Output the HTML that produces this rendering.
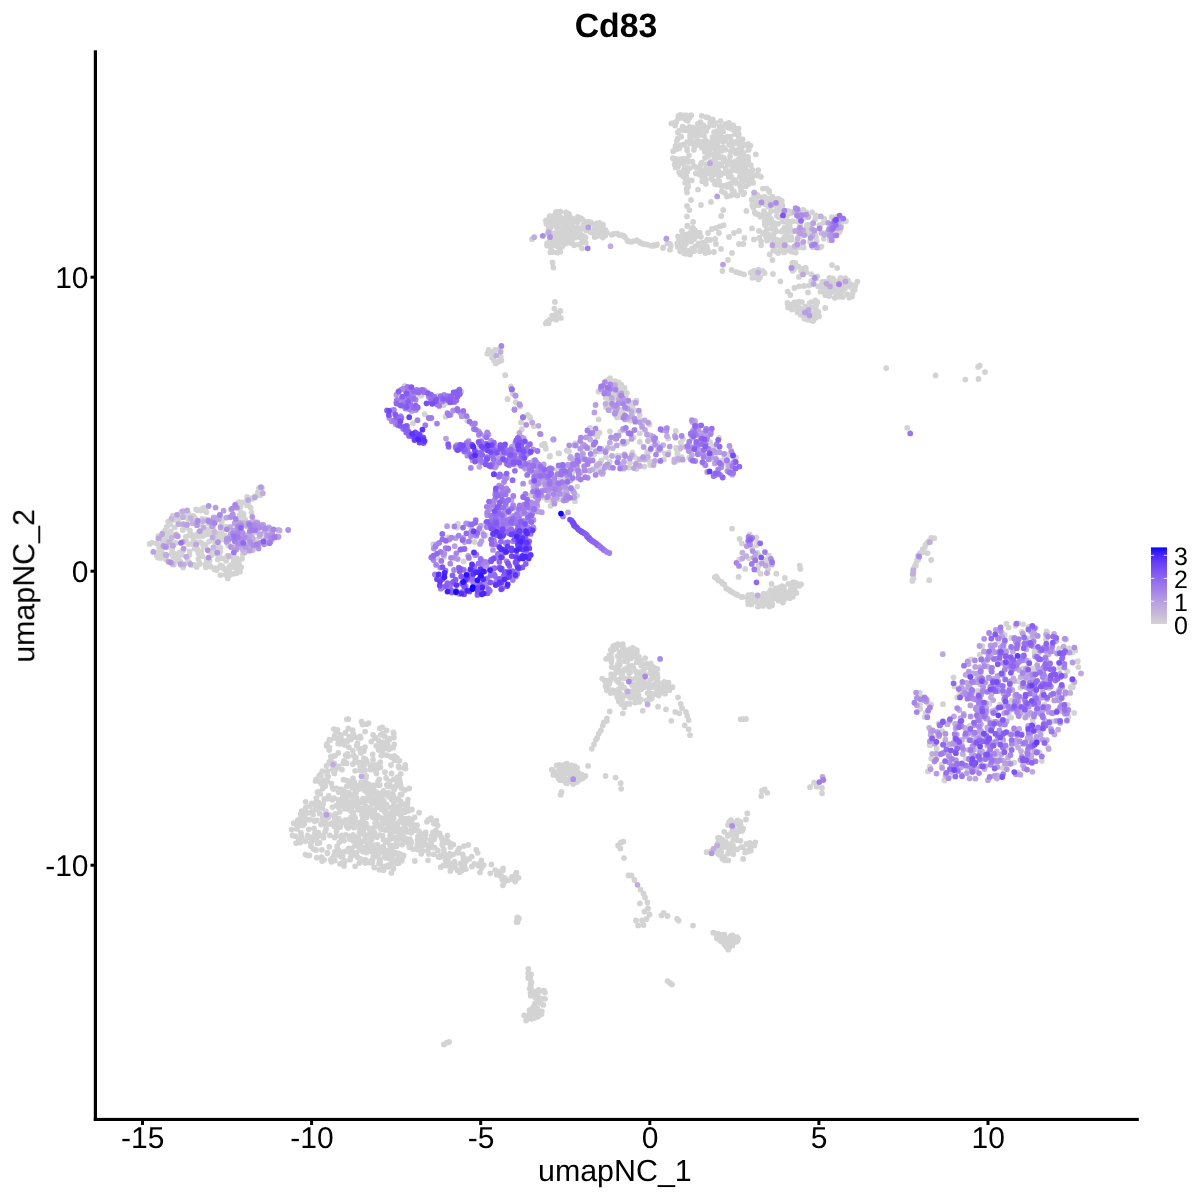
<!DOCTYPE html>
<html><head><meta charset="utf-8"><title>Cd83</title>
<style>
html,body{margin:0;padding:0;background:#fff;}
svg{display:block;font-family:"Liberation Sans",sans-serif;}
text{text-rendering:geometricPrecision;}
.t{opacity:0.999;}
</style></head><body>
<svg width="1200" height="1200" viewBox="0 0 1200 1200">
<defs><linearGradient id="lg" x1="0" y1="0" x2="0" y2="1"><stop offset="0.00" stop-color="#0000ff"/><stop offset="0.05" stop-color="#3318fd"/><stop offset="0.10" stop-color="#4926fb"/><stop offset="0.15" stop-color="#5932fa"/><stop offset="0.20" stop-color="#673df8"/><stop offset="0.25" stop-color="#7248f6"/><stop offset="0.30" stop-color="#7c51f4"/><stop offset="0.35" stop-color="#855bf2"/><stop offset="0.40" stop-color="#8e65f0"/><stop offset="0.45" stop-color="#966eee"/><stop offset="0.50" stop-color="#9d77ec"/><stop offset="0.55" stop-color="#a480ea"/><stop offset="0.60" stop-color="#aa89e7"/><stop offset="0.65" stop-color="#b093e5"/><stop offset="0.70" stop-color="#b69ce3"/><stop offset="0.75" stop-color="#bba5e0"/><stop offset="0.80" stop-color="#c1aede"/><stop offset="0.85" stop-color="#c6b7db"/><stop offset="0.90" stop-color="#cac0d9"/><stop offset="0.95" stop-color="#cfcad6"/><stop offset="1.00" stop-color="#d3d3d3"/></linearGradient></defs>
<rect width="1200" height="1200" fill="#fff"/>
<g fill="none" stroke-linecap="round" stroke-width="5.80">
<path stroke="#d3d3d3" d="M715.5 449.8h0M785.6 245.4h0M424.0 841.7h0M832.7 278.5h0M686.6 188.7h0M403.6 855.4h0M379.5 859.9h0M580.3 237.5h0M736.7 160.8h0M577.0 495.8h0M310.8 842.8h0M420.2 837.0h0M617.7 390.4h0M464.4 864.7h0M462.5 865.1h0M359.0 823.4h0M575.2 778.6h0M787.1 215.2h0M530.8 995.7h0M741.9 543.4h0M656.3 686.1h0M353.2 812.7h0M615.1 668.1h0M974.8 761.8h0M320.7 774.3h0M196.7 567.0h0M224.6 535.7h0M163.1 544.8h0M621.5 695.0h0M201.2 542.3h0M343.2 803.0h0M351.3 822.9h0M742.6 139.4h0M388.0 813.8h0M372.6 834.2h0M334.6 817.1h0M739.0 244.0h0M156.4 552.4h0M700.9 236.8h0M717.4 184.5h0M574.2 245.3h0M969.0 729.8h0M729.9 590.4h0M693.2 222.0h0M569.1 224.6h0M180.3 561.4h0M319.9 781.9h0M619.3 691.9h0M706.0 168.5h0M708.7 252.2h0M363.1 851.6h0M371.4 840.1h0M617.7 689.8h0M583.4 236.2h0M309.4 855.4h0M657.4 669.0h0M292.6 835.5h0M753.3 182.8h0M718.8 171.4h0M1015.5 625.8h0M170.6 531.4h0M447.6 841.2h0M806.1 233.2h0M360.8 801.8h0M657.0 244.4h0M238.0 559.6h0M727.6 184.6h0M683.4 158.7h0M230.1 574.8h0M738.7 161.8h0M347.9 820.1h0M658.0 682.1h0M732.5 935.3h0M339.4 800.9h0M211.8 555.0h0M576.1 458.2h0M803.3 210.0h0M188.3 543.9h0M695.9 132.5h0M736.9 141.7h0M430.6 819.3h0M598.8 733.7h0M625.8 656.3h0M346.7 763.2h0M792.7 270.8h0M689.0 239.9h0M929.2 580.2h0M754.7 598.4h0M1035.9 670.3h0M1074.2 712.9h0M375.5 849.5h0M657.0 442.6h0M316.8 837.6h0M556.3 212.3h0M691.0 200.0h0M558.3 223.5h0M747.9 598.3h0M623.2 235.7h0M758.4 276.8h0M746.0 180.0h0M771.6 220.2h0M755.9 213.8h0M548.7 323.2h0M614.8 648.0h0M373.3 852.9h0M361.2 850.0h0M250.6 507.6h0M700.6 173.8h0M742.3 174.5h0M825.0 281.6h0M643.5 925.0h0M632.8 405.9h0M209.7 565.5h0M219.7 540.0h0M720.0 226.4h0M198.8 553.8h0M540.5 1003.1h0M393.4 838.0h0M351.8 781.9h0M469.3 858.9h0M710.0 240.0h0M689.9 252.3h0M739.5 823.4h0M673.1 151.2h0M692.5 161.6h0M245.2 540.1h0M607.1 380.5h0M1009.2 659.7h0M810.8 231.9h0M780.6 250.5h0M331.0 760.6h0M680.5 174.5h0M730.9 183.3h0M759.4 604.7h0M750.9 172.0h0M300.8 814.1h0M342.8 796.2h0M1047.2 632.5h0M425.6 832.4h0M567.3 220.6h0M579.0 461.2h0M496.7 874.8h0M799.6 585.8h0M986.0 709.8h0M724.8 173.0h0M636.0 651.5h0M355.1 770.8h0M490.3 873.3h0M348.2 828.0h0M323.0 821.9h0M618.6 384.8h0M326.1 828.8h0M382.3 866.3h0M800.2 224.7h0M258.9 488.1h0M590.0 448.2h0M652.1 666.5h0M534.2 1018.0h0M545.9 220.7h0M362.1 841.4h0M929.6 744.9h0M317.7 843.4h0M639.1 420.0h0M437.6 825.5h0M361.3 846.9h0M711.4 177.9h0M1017.7 681.1h0M622.9 464.6h0M335.4 814.0h0M420.0 832.8h0M647.1 453.4h0M606.6 396.1h0M776.9 215.8h0M362.1 815.1h0M535.0 1003.3h0M691.2 115.2h0M354.0 816.8h0M189.1 522.1h0M1044.6 705.0h0M183.2 512.4h0M560.7 478.5h0M238.6 518.3h0M1058.4 690.7h0M1046.1 655.8h0M379.2 779.3h0M258.0 492.5h0M398.0 392.5h0M670.0 249.6h0M756.2 199.7h0M199.9 563.9h0M403.2 856.2h0M706.1 117.1h0M243.6 513.9h0M381.4 797.8h0M816.4 278.4h0M556.3 244.2h0M437.4 395.8h0M149.7 543.9h0M680.7 704.0h0M677.7 138.6h0M621.5 684.1h0M434.2 839.2h0M633.6 402.4h0M730.8 450.1h0M813.0 247.3h0M379.8 835.1h0M741.5 148.8h0M811.3 281.0h0M571.9 228.6h0M1008.0 664.5h0M167.1 544.9h0M799.7 565.6h0M791.5 583.7h0M584.6 225.6h0M735.2 170.1h0M371.6 829.2h0M787.3 593.7h0M779.4 587.6h0M366.2 775.9h0M554.3 308.6h0M305.6 801.8h0M316.4 801.5h0M740.7 157.0h0M396.9 758.0h0M714.8 577.3h0M823.7 287.6h0M792.8 266.7h0M646.5 919.0h0M917.1 559.8h0M593.0 231.2h0M224.5 569.2h0M767.0 233.2h0M748.1 600.7h0M198.6 553.5h0M603.8 229.6h0M425.3 838.3h0M726.3 846.7h0M354.0 839.4h0M989.2 746.5h0M365.7 827.0h0M368.8 800.1h0M991.2 687.0h0M381.3 806.8h0M742.1 830.9h0M616.1 694.0h0M725.9 841.9h0M457.1 852.4h0M554.9 301.9h0M552.7 252.1h0M389.6 739.4h0M566.0 479.7h0M705.0 158.0h0M481.5 868.0h0M726.2 944.5h0M194.1 564.8h0M617.4 233.7h0M727.3 125.7h0M382.7 822.4h0M363.4 830.6h0M760.7 573.7h0M665.9 683.8h0M236.5 573.3h0M171.1 547.6h0M421.2 395.7h0M941.8 764.7h0M810.0 787.2h0M772.0 605.6h0M736.9 937.1h0M332.5 807.1h0M495.0 350.0h0M241.1 567.2h0M317.4 792.2h0M635.0 649.3h0M339.3 842.2h0M929.9 766.7h0M638.6 695.4h0M398.5 830.7h0M793.9 584.1h0M752.5 598.7h0M209.3 520.1h0M635.5 678.5h0M723.2 210.0h0M419.3 847.0h0M716.0 228.0h0M738.6 576.9h0M639.5 241.8h0M558.0 218.2h0M556.7 227.4h0M773.0 274.0h0M411.3 825.4h0M777.1 245.1h0M203.4 546.4h0M446.9 401.8h0M621.6 675.7h0M160.4 558.0h0M330.9 756.5h0M349.1 836.2h0M233.0 536.7h0M452.0 864.0h0M341.8 835.4h0M338.4 800.0h0M245.3 502.3h0M738.1 938.7h0M457.8 524.0h0M628.8 691.4h0M770.5 238.2h0M409.2 788.5h0M732.2 454.0h0M611.6 652.3h0M935.9 737.3h0M616.2 672.6h0M710.1 173.8h0M472.0 866.5h0M733.2 839.6h0M373.6 765.7h0M398.4 831.3h0M605.9 407.0h0M794.7 267.5h0M552.2 315.6h0M340.9 856.7h0M649.7 695.8h0M206.7 559.3h0M430.2 394.8h0M592.7 232.8h0M630.0 462.7h0M721.5 581.9h0M551.7 484.4h0M711.3 145.3h0M736.4 835.1h0M668.4 682.7h0M594.7 237.0h0M378.2 851.0h0M581.3 228.4h0M725.8 844.0h0M340.7 789.5h0M809.5 303.3h0M296.1 843.1h0M741.3 847.2h0M186.6 512.3h0M847.9 280.5h0M239.1 502.1h0M790.9 595.8h0M606.4 680.6h0M440.8 867.2h0M352.8 750.6h0M675.2 163.0h0M758.3 214.5h0M312.6 803.9h0M647.5 693.1h0M342.7 855.2h0M310.1 806.0h0M682.9 163.4h0M398.7 863.3h0M978.1 366.9h0M606.1 457.0h0M496.9 873.1h0M598.7 469.1h0M559.8 780.1h0M605.6 230.2h0M600.2 235.2h0M717.7 579.0h0M352.7 735.5h0M340.1 827.1h0M374.7 827.0h0M378.1 800.7h0M610.5 659.2h0M798.4 210.0h0M334.1 855.3h0M781.7 240.2h0M777.9 243.1h0M346.5 825.9h0M717.3 136.1h0M751.3 604.4h0M656.8 245.1h0M624.0 655.7h0M243.5 516.6h0M733.2 194.2h0M557.2 252.7h0M840.5 294.7h0M609.0 658.7h0M382.2 824.1h0M404.9 818.6h0M557.7 469.4h0M243.5 514.7h0M407.5 803.4h0M353.9 837.2h0M595.8 234.7h0M364.1 749.6h0M1044.9 742.7h0M541.8 483.9h0M642.4 243.5h0M187.7 517.2h0M708.2 117.7h0M705.9 150.2h0M824.2 218.6h0M732.1 528.6h0M404.8 812.2h0M789.6 224.8h0M806.3 314.7h0M684.7 725.3h0M571.8 473.1h0M730.6 145.7h0M731.2 939.9h0M754.7 200.1h0M495.6 363.4h0M366.1 806.7h0M749.9 599.6h0M636.5 400.7h0M421.7 836.0h0M552.8 245.3h0M724.0 158.2h0M383.4 790.8h0M369.1 800.7h0M1061.2 652.6h0M776.4 231.3h0M230.0 517.3h0M538.8 989.9h0M733.2 125.4h0M338.0 818.5h0M293.8 823.2h0M366.0 798.6h0M370.4 787.8h0M631.1 456.9h0M740.3 171.3h0M163.8 554.6h0M1028.5 626.8h0M599.4 222.8h0M557.6 233.2h0M687.7 184.9h0M680.2 251.3h0M197.5 551.0h0M368.1 849.5h0M533.5 1013.4h0M338.4 850.0h0M849.0 283.0h0M204.3 509.7h0M954.6 762.9h0M352.9 764.1h0M386.6 730.4h0M627.1 703.6h0M761.0 176.8h0M376.2 798.5h0M724.9 193.1h0M914.7 566.4h0M722.2 140.8h0M374.8 738.0h0M681.5 446.2h0M420.7 846.0h0M570.1 217.1h0M316.8 820.4h0M214.0 537.4h0M675.3 712.0h0M664.8 689.2h0M567.6 466.3h0M618.0 682.0h0M474.5 542.0h0M638.3 691.0h0M583.3 225.4h0M341.9 769.7h0M1070.6 687.2h0M574.6 221.4h0M686.5 236.7h0M1007.9 667.8h0M622.6 646.7h0M1020.3 657.0h0M398.9 856.6h0M733.0 845.5h0M648.0 908.5h0M359.3 863.1h0M694.2 147.1h0M752.3 182.2h0M168.2 521.7h0M801.1 270.9h0M544.1 475.5h0M356.6 825.3h0M634.9 410.7h0M735.1 152.1h0M739.5 148.4h0M385.9 854.6h0M741.5 171.9h0M720.2 845.5h0M240.0 514.8h0M1017.1 702.5h0M799.0 286.4h0M215.4 547.5h0M693.0 228.0h0M386.8 784.9h0M330.5 760.9h0M802.9 268.6h0M651.5 674.4h0M174.7 553.9h0M336.6 788.4h0M397.5 823.3h0M797.3 244.9h0M314.2 835.4h0M941.9 753.4h0M931.1 704.4h0M805.6 306.7h0M820.2 247.6h0M632.0 684.9h0M915.9 565.4h0M447.2 865.6h0M717.8 167.1h0M391.8 860.5h0M553.6 243.1h0M779.5 210.4h0M438.5 857.0h0M750.7 540.9h0M240.7 512.2h0M567.8 235.1h0M340.9 737.2h0M561.3 221.7h0M732.2 129.0h0M379.7 743.8h0M694.1 239.1h0M170.7 543.0h0M663.7 687.2h0M565.5 232.5h0M571.0 765.2h0M398.3 798.8h0M410.7 841.4h0M395.2 825.6h0M712.5 137.2h0M621.3 654.1h0M731.0 187.3h0M327.4 852.7h0M567.6 483.5h0M599.4 432.7h0M525.5 508.6h0M440.3 855.5h0M624.3 704.7h0M722.5 938.6h0M372.4 792.8h0M301.5 836.9h0M668.6 452.7h0M166.7 526.8h0M547.0 245.4h0M450.5 847.0h0M341.5 823.0h0M622.8 713.3h0M367.9 783.8h0M400.2 858.2h0M559.7 236.9h0M638.9 657.0h0M796.8 242.9h0M606.1 658.8h0M955.5 744.9h0M334.4 826.4h0M296.2 824.2h0M213.9 549.4h0M208.4 561.4h0M220.5 565.5h0M718.9 164.5h0M412.3 825.0h0M461.8 870.8h0M230.9 565.2h0M774.8 591.1h0M356.4 737.5h0M660.7 450.1h0M222.5 566.3h0M406.4 842.6h0M219.5 553.0h0M568.5 468.9h0M770.9 218.8h0M619.4 409.6h0M164.4 532.0h0M1046.6 631.4h0M646.3 663.7h0M920.1 552.8h0M737.8 130.8h0M564.7 226.0h0M609.3 407.1h0M854.7 289.8h0M795.9 305.6h0M852.0 296.4h0M515.6 874.9h0M598.6 419.4h0M647.4 902.5h0M322.1 861.0h0M632.8 647.8h0M746.0 144.9h0M400.9 830.3h0M567.2 238.3h0M403.7 833.2h0M765.7 603.9h0M618.6 396.9h0M359.5 848.8h0M796.2 247.2h0M209.8 551.1h0M1041.9 761.1h0M610.7 410.4h0M392.0 821.4h0M343.6 802.4h0M192.1 544.0h0M741.6 178.9h0M919.9 705.1h0M201.5 551.5h0M198.7 536.6h0M1043.2 725.7h0M561.5 792.0h0M749.8 534.7h0M382.8 819.0h0M326.0 799.0h0M649.0 667.3h0M637.4 459.0h0M543.3 1004.9h0M787.0 249.7h0M598.0 224.7h0M816.0 236.9h0M421.7 844.3h0M388.9 792.8h0M577.6 779.7h0M343.5 779.7h0M952.8 775.9h0M781.8 241.4h0M383.4 839.4h0M715.7 848.1h0M644.7 682.6h0M637.2 685.3h0M784.1 237.6h0M201.3 524.6h0M550.4 252.4h0M702.1 147.7h0M220.4 551.4h0M390.5 794.8h0M1030.0 758.8h0M304.3 824.1h0M366.9 789.4h0M1039.5 659.3h0M770.2 221.8h0M742.1 159.2h0M809.2 315.4h0M738.7 134.3h0M1068.4 716.9h0M428.2 820.0h0M357.9 809.7h0M418.9 831.2h0M206.1 519.5h0M575.0 237.6h0M564.0 765.0h0M1021.7 683.8h0M733.4 942.1h0M382.5 835.7h0M636.0 690.7h0M706.6 852.2h0M474.3 863.9h0M316.9 857.7h0M765.8 214.4h0M587.5 221.9h0M757.2 600.6h0M999.5 721.2h0M195.0 517.8h0M371.0 790.4h0M622.8 410.0h0M384.4 857.0h0M556.2 319.7h0M396.6 841.5h0M364.2 802.3h0M680.4 114.9h0M678.1 118.2h0M552.9 240.2h0M393.7 818.2h0M705.5 253.2h0M570.4 225.6h0M180.2 524.2h0M632.0 403.1h0M160.4 552.3h0M727.5 455.2h0M327.4 771.4h0M1048.1 747.1h0M186.0 539.8h0M728.0 260.0h0M398.2 813.6h0M624.3 236.4h0M816.0 305.4h0M598.0 228.8h0M691.4 230.4h0M394.2 744.5h0M799.0 301.6h0M375.5 767.4h0M611.1 401.5h0M687.3 716.0h0M554.3 233.4h0M736.0 272.0h0M560.3 251.8h0M605.6 397.5h0M785.9 594.4h0M373.5 856.5h0M338.6 792.1h0M836.3 290.2h0M384.9 772.2h0M807.2 319.6h0M739.7 826.4h0M913.3 568.9h0M943.0 704.2h0M575.2 231.8h0M529.7 1017.8h0M341.4 855.6h0M798.4 266.6h0M477.7 852.8h0M712.2 179.8h0M160.7 536.7h0M561.7 242.2h0M619.1 690.3h0M384.7 856.8h0M445.7 416.7h0M738.7 159.5h0M345.0 861.0h0M537.2 1008.1h0M825.2 308.0h0M352.4 787.7h0M328.7 795.8h0M719.8 157.6h0M907.2 427.8h0M369.8 835.1h0M801.0 212.3h0M746.4 843.9h0M643.5 893.5h0M1008.3 733.5h0M723.7 126.4h0M797.7 221.4h0M405.0 789.9h0M399.1 831.9h0M765.3 216.4h0M648.9 683.3h0M406.2 823.7h0M530.0 417.2h0M562.6 230.7h0M781.6 231.6h0M389.0 821.4h0M776.3 598.4h0M757.1 175.3h0M609.5 396.6h0M727.8 164.6h0M516.1 464.4h0M791.3 211.6h0M886.2 368.1h0M734.9 133.9h0M359.9 846.3h0M358.4 825.7h0M344.0 840.6h0M362.7 833.4h0M709.2 170.5h0M724.0 148.5h0M324.2 859.8h0M353.2 824.4h0M566.8 223.1h0M717.0 131.1h0M378.7 824.2h0M799.4 232.8h0M556.2 219.4h0M316.4 798.1h0M629.3 681.5h0M539.2 991.6h0M558.2 315.0h0M342.6 821.6h0M784.0 242.6h0M699.9 233.0h0M227.6 555.9h0M769.5 198.3h0M368.5 862.4h0M730.0 156.3h0M613.2 233.9h0M527.7 415.3h0M318.7 791.9h0M383.2 809.9h0M725.8 140.7h0M788.2 221.3h0M724.2 831.8h0M785.8 592.6h0M743.9 178.9h0M985.2 753.6h0M432.1 838.7h0M609.7 462.0h0M1048.3 724.4h0M403.4 823.2h0M355.9 757.3h0M1022.1 734.0h0M517.0 511.6h0M727.9 162.3h0M839.4 289.3h0M720.6 164.2h0M387.6 840.5h0M728.8 176.9h0M353.6 854.4h0M772.4 260.0h0M717.3 150.5h0M413.0 849.1h0M801.1 584.3h0M313.4 849.0h0M558.6 237.1h0M736.0 153.4h0M684.0 115.4h0M692.9 127.6h0M541.9 998.6h0M159.4 547.4h0M466.2 861.0h0M700.4 122.1h0M362.9 764.2h0M450.2 856.1h0M701.5 142.3h0M998.4 641.0h0M316.0 850.0h0M918.0 555.5h0M742.9 847.2h0M319.8 835.5h0M563.8 491.5h0M392.7 846.6h0M695.1 233.7h0M628.5 875.5h0M679.2 130.7h0M444.2 556.8h0M408.6 810.8h0M364.4 765.2h0M689.9 168.1h0M825.4 233.2h0M198.4 532.6h0M347.8 826.2h0M180.8 552.0h0M595.1 434.3h0M231.0 574.3h0M783.8 599.9h0M807.0 225.0h0M230.7 509.4h0M1012.8 709.5h0M400.1 854.1h0M533.1 460.8h0M207.3 530.0h0M221.3 558.2h0M382.1 851.9h0M383.9 748.6h0M1032.8 719.8h0M342.8 741.0h0M773.4 592.8h0M713.1 169.5h0M355.2 760.5h0M765.8 201.3h0M721.2 216.0h0M706.0 146.0h0M209.2 541.3h0M982.7 691.8h0M351.3 807.8h0M711.1 173.7h0M640.5 684.4h0M391.7 786.8h0M564.1 777.0h0M787.7 210.8h0M197.7 510.3h0M936.9 756.2h0M219.2 536.4h0M823.6 222.6h0M501.4 360.5h0M842.0 222.0h0M583.6 777.6h0M553.6 224.7h0M668.8 688.0h0M393.9 737.4h0M370.3 842.2h0M803.6 218.1h0M378.5 749.8h0M410.5 846.4h0M565.6 238.1h0M447.4 835.6h0M336.2 805.7h0M736.9 161.9h0M688.0 237.2h0M374.9 737.7h0M557.0 241.0h0M385.9 857.9h0M365.1 859.7h0M729.1 822.2h0M382.3 751.7h0M730.3 161.7h0M721.6 163.8h0M193.2 537.1h0M185.6 525.5h0M599.6 451.6h0M597.4 436.7h0M332.6 769.0h0M683.9 245.2h0M765.3 560.0h0M679.2 449.5h0M986.6 661.1h0M743.2 244.0h0M366.7 760.9h0M384.8 857.3h0M1033.3 740.3h0M640.9 699.6h0M769.0 199.7h0M778.7 600.7h0M387.9 852.0h0M697.8 128.1h0M365.1 787.7h0M217.7 559.6h0M840.5 277.9h0M234.8 564.1h0M772.8 597.5h0M381.7 802.1h0M797.9 229.8h0M558.7 778.4h0M772.7 197.0h0M800.3 568.9h0M584.2 228.6h0M805.6 311.3h0M555.1 316.2h0M989.3 730.7h0M710.2 442.1h0M226.0 560.8h0M735.8 594.2h0M191.5 534.8h0M336.3 818.2h0M382.5 733.6h0M422.3 845.7h0M706.6 147.8h0M627.3 704.1h0M735.5 166.6h0M399.4 760.7h0M722.4 271.0h0M542.0 445.0h0M560.3 310.9h0M546.3 223.8h0M358.1 804.1h0M704.4 244.1h0M655.3 442.5h0M390.5 832.2h0M544.1 497.5h0M564.9 492.8h0M747.9 143.8h0M405.6 768.6h0M744.1 193.0h0M566.7 215.0h0M794.0 269.5h0M546.9 322.0h0M766.7 562.2h0M449.1 1042.0h0M221.5 537.8h0M302.1 812.9h0M931.2 560.0h0M366.7 761.8h0M370.3 829.5h0M535.4 997.5h0M401.3 788.0h0M718.3 154.4h0M967.1 690.6h0M384.9 823.3h0M571.6 231.9h0M619.5 652.3h0M771.5 583.9h0M559.1 764.9h0M383.5 870.3h0M784.1 590.3h0M809.0 285.6h0M531.5 982.4h0M569.2 488.3h0M618.0 388.1h0M721.8 191.3h0M650.7 663.5h0M692.0 248.6h0M685.1 240.8h0M723.3 147.3h0M782.0 587.9h0M788.2 236.2h0M790.5 229.1h0M792.4 231.3h0M818.2 286.3h0M176.4 555.6h0M649.4 424.5h0M353.2 733.7h0M739.5 829.7h0M255.9 539.9h0M572.5 236.6h0M713.5 474.5h0M353.6 755.4h0M199.3 562.6h0M323.5 835.7h0M977.8 690.8h0M788.3 231.1h0M692.9 135.9h0M202.4 556.2h0M188.4 519.5h0M498.8 871.6h0M185.0 515.3h0M307.2 813.0h0M832.7 283.1h0M336.0 835.8h0M508.1 880.2h0M750.9 601.5h0M1023.3 668.4h0M750.1 848.4h0M737.4 195.5h0M675.8 159.0h0M364.7 811.3h0M387.8 745.1h0M358.2 762.5h0M355.1 866.3h0M585.8 242.7h0M329.3 739.7h0M569.7 242.8h0M202.6 508.6h0M605.1 232.5h0M815.9 317.8h0M785.7 597.7h0M208.2 534.0h0M398.7 837.1h0M317.2 809.8h0M553.3 774.9h0M335.4 814.9h0M852.2 287.9h0M700.7 131.0h0M162.5 543.1h0M636.9 673.2h0M721.6 165.6h0M725.8 168.6h0M638.1 925.6h0M364.9 770.3h0M374.4 791.2h0M817.5 276.3h0M375.8 785.3h0M695.3 134.8h0M762.0 790.7h0M724.4 455.9h0M717.6 847.0h0M852.5 293.5h0M196.0 543.3h0M562.4 239.6h0M698.9 236.1h0M414.5 817.4h0M537.9 1016.8h0M568.3 224.4h0M366.0 823.5h0M319.8 813.7h0M735.7 130.3h0M352.4 851.8h0M329.4 761.9h0M517.7 922.1h0M347.7 796.4h0M338.6 739.7h0M771.2 237.1h0M711.0 851.1h0M699.0 233.0h0M577.1 767.8h0M535.2 1016.4h0M587.2 462.9h0M460.5 863.4h0M327.4 780.8h0M568.1 480.8h0M352.4 804.3h0M1055.0 677.2h0M615.2 381.1h0M830.2 289.7h0M622.4 650.7h0M176.3 560.9h0M441.8 838.3h0M821.8 284.8h0M307.6 837.2h0M568.5 221.7h0M1025.5 680.6h0M722.0 839.5h0M419.1 389.7h0M775.0 205.2h0M730.9 936.0h0M566.9 783.4h0M222.7 529.0h0M341.4 802.8h0M1008.8 712.4h0M754.3 845.6h0M676.3 121.9h0M649.5 914.5h0M459.2 848.3h0M924.7 547.6h0M834.8 297.9h0M731.5 843.6h0M330.8 824.1h0M393.6 815.0h0M791.4 239.8h0M383.2 846.6h0M326.5 765.9h0M342.8 856.1h0M664.1 682.0h0M551.8 769.7h0M814.6 278.8h0M706.4 172.7h0M570.1 774.8h0M182.8 530.0h0M791.1 304.7h0M240.0 571.7h0M832.0 265.0h0M806.7 227.5h0M621.2 788.8h0M661.8 692.7h0M1028.6 660.8h0M605.5 686.3h0M381.3 807.6h0M766.8 597.5h0M754.3 192.6h0M813.5 316.7h0M549.9 234.4h0M678.9 238.3h0M703.3 130.0h0M733.3 169.8h0M1004.8 635.0h0M1064.4 638.8h0M640.8 677.1h0M721.0 249.0h0M766.2 237.0h0M724.4 856.8h0M589.5 224.3h0M778.6 217.1h0M746.0 186.2h0M417.1 825.2h0M651.4 245.8h0M298.3 822.1h0M399.2 778.2h0M628.9 241.6h0M683.8 144.5h0M381.6 748.9h0M554.1 215.9h0M257.2 532.8h0M594.5 229.1h0M444.0 1044.4h0M721.9 127.4h0M327.2 774.6h0M782.9 602.5h0M652.5 687.0h0M740.4 821.9h0M740.1 185.9h0M724.5 934.7h0M587.6 228.7h0M1059.0 648.7h0M687.0 192.5h0M256.9 495.4h0M366.6 724.2h0M823.8 238.7h0M682.9 176.0h0M1046.0 639.2h0M969.0 731.2h0M693.0 925.6h0M801.9 302.1h0M748.8 558.3h0M769.2 592.3h0M788.3 583.8h0M724.4 584.4h0M623.8 678.2h0M512.7 879.2h0M309.3 819.7h0M550.1 235.2h0M424.6 836.3h0M774.0 244.1h0M301.7 811.2h0M754.7 205.4h0M367.1 792.5h0M208.9 532.1h0M1072.7 687.4h0M203.8 508.0h0M358.6 789.2h0M969.7 674.1h0M361.6 821.9h0M633.9 689.7h0M731.5 177.0h0M386.8 814.2h0M550.2 239.4h0M238.8 563.1h0M968.2 739.8h0M339.1 804.0h0M348.6 848.5h0M703.4 250.4h0M727.7 161.5h0M1077.8 661.2h0M385.6 850.5h0M614.3 674.4h0M409.3 847.2h0M343.2 763.3h0M780.0 206.6h0M579.2 780.0h0M386.2 808.4h0M375.1 800.4h0M798.6 584.3h0M354.3 782.1h0M553.3 267.5h0M944.7 780.6h0M427.6 850.8h0M649.6 699.4h0M721.3 851.8h0M369.0 828.2h0M566.7 213.2h0M230.6 529.3h0M571.2 243.1h0M649.0 451.2h0M398.9 813.3h0M613.7 649.5h0M345.4 732.9h0M754.7 601.7h0M609.2 684.1h0M539.8 1015.1h0M370.2 845.1h0M362.1 748.6h0M698.6 126.6h0M754.4 277.1h0M740.7 719.2h0M1035.7 628.3h0M1009.3 708.9h0M981.0 730.5h0M381.3 850.5h0M842.4 291.1h0M572.1 773.0h0M811.3 307.6h0M471.2 526.9h0M418.4 844.2h0M375.3 737.4h0M344.3 851.5h0M580.8 218.1h0M784.2 212.1h0M633.5 437.6h0M620.4 431.6h0M690.0 136.4h0M560.6 235.1h0M341.0 837.0h0M570.4 771.1h0M488.6 350.0h0M214.4 569.3h0M931.5 735.5h0M737.6 820.3h0M1008.9 732.9h0M727.3 464.4h0M1028.5 741.7h0M348.2 719.2h0M721.6 847.7h0M675.7 167.4h0M394.8 756.7h0M804.1 217.1h0M539.4 480.6h0M733.9 828.8h0M624.4 707.3h0M392.3 811.5h0M630.6 667.6h0M364.4 834.4h0M713.6 174.4h0M341.4 789.4h0M925.6 712.9h0M718.1 853.5h0M632.4 241.3h0M165.2 530.4h0M689.7 180.4h0M708.0 434.1h0M477.8 448.4h0M332.3 799.8h0M426.9 821.8h0M720.3 133.3h0M667.5 916.0h0M319.3 775.7h0M252.2 498.9h0M182.2 564.6h0M327.2 824.6h0M1069.1 648.4h0M549.9 456.6h0M575.7 770.5h0M735.2 161.7h0M366.5 851.6h0M719.5 147.7h0M380.4 767.4h0M921.1 697.1h0M495.2 870.1h0M549.8 216.2h0M560.9 317.9h0M205.6 564.1h0M193.4 515.8h0M333.6 789.1h0M722.7 583.6h0M676.1 448.0h0M1071.9 679.7h0M560.4 771.6h0M712.9 174.2h0M295.8 836.3h0M928.9 541.2h0M393.0 794.3h0M730.2 136.9h0M519.0 918.4h0M1027.4 674.3h0M575.0 501.2h0M501.4 876.0h0M748.0 851.4h0M812.8 247.3h0M342.9 791.9h0M551.1 220.9h0M555.9 233.2h0M372.7 754.3h0M454.9 865.7h0M452.5 867.5h0M386.0 866.1h0M700.7 164.7h0M386.6 804.7h0M505.3 375.1h0M342.7 805.9h0M480.0 872.4h0M799.0 307.5h0M700.8 247.0h0M639.9 903.4h0M754.2 202.8h0M979.7 654.8h0M750.9 850.6h0M705.6 140.4h0M647.5 244.7h0M775.9 202.5h0M579.8 232.7h0M1078.2 667.1h0M558.6 217.4h0M717.8 451.5h0M389.9 845.1h0M379.2 863.3h0M611.1 657.1h0M669.9 982.9h0M764.6 273.2h0M257.5 522.1h0M219.3 515.6h0M457.2 527.6h0M321.7 857.1h0M729.2 172.5h0M566.3 229.3h0M663.6 913.0h0M357.2 800.5h0M771.9 228.8h0M391.4 820.3h0M334.4 756.0h0M748.2 160.7h0M709.2 149.1h0M748.6 183.9h0M347.5 781.0h0M363.8 758.3h0M671.4 123.4h0M783.9 595.3h0M181.2 565.3h0M771.7 200.8h0M1042.8 668.8h0M769.0 555.6h0M358.5 836.5h0M610.8 649.8h0M541.8 1011.3h0M464.4 858.4h0M723.2 841.0h0M374.7 810.1h0M792.4 263.0h0M715.8 933.6h0M710.2 122.9h0M689.3 457.6h0M400.7 773.8h0M627.0 441.9h0M681.7 237.2h0M631.5 875.5h0M979.2 736.1h0M338.1 743.6h0M769.4 600.1h0M597.9 231.9h0M615.8 645.2h0M191.3 565.1h0M620.8 411.3h0M215.0 542.3h0M719.3 847.5h0M630.4 697.9h0M409.9 839.1h0M566.4 766.5h0M762.6 270.8h0M687.1 150.2h0M717.6 143.4h0M454.5 861.7h0M636.9 652.2h0M617.2 667.7h0M980.0 698.8h0M927.3 542.7h0M161.6 551.3h0M457.5 870.2h0M775.1 246.2h0M629.0 467.6h0M397.0 784.0h0M629.9 409.6h0M808.5 216.5h0M680.8 442.4h0M301.7 820.0h0M617.9 393.4h0M729.0 144.6h0M969.6 726.0h0M393.6 779.3h0M612.6 690.1h0M564.0 778.9h0M173.9 564.5h0M796.4 593.0h0M398.3 853.4h0M641.2 665.4h0M826.9 292.6h0M677.6 246.7h0M213.4 528.1h0M383.8 802.8h0M406.1 838.7h0M619.2 661.1h0M217.3 519.1h0M377.6 815.5h0M386.2 822.5h0M1032.7 719.6h0M476.2 849.8h0M967.5 768.8h0M521.8 429.2h0M769.3 192.0h0M395.0 852.4h0M569.3 766.6h0M561.0 217.6h0M740.0 164.5h0M209.6 560.7h0M334.3 763.4h0M428.9 853.9h0M240.0 569.2h0M605.5 776.0h0M738.7 136.5h0M391.3 847.0h0M626.9 691.1h0M301.0 832.9h0M444.9 865.4h0M361.2 749.5h0M559.7 770.2h0M927.8 771.4h0M749.8 843.0h0M399.7 821.5h0M928.6 704.0h0M198.3 534.7h0M966.9 730.2h0M403.5 804.0h0M414.8 861.0h0M344.1 865.9h0M248.0 503.2h0M654.1 694.1h0M391.8 851.1h0M623.3 414.6h0M377.4 798.8h0M559.3 767.7h0M554.6 772.0h0M374.7 845.1h0M199.1 523.4h0M795.3 265.9h0M617.5 697.6h0M595.9 739.8h0M530.5 495.3h0M433.7 854.3h0M775.1 229.1h0M228.6 542.8h0M743.6 152.9h0M640.3 660.5h0M728.0 853.6h0M761.4 197.3h0M227.4 576.5h0M733.9 150.2h0M716.0 244.0h0M706.3 164.3h0M701.8 115.8h0M453.0 854.6h0M550.7 221.5h0M515.8 402.2h0M181.2 512.2h0M782.4 205.5h0M510.8 386.5h0M568.3 773.6h0M171.5 553.4h0M694.2 251.0h0M401.2 816.6h0M845.0 288.5h0M179.0 552.8h0M426.1 844.7h0M252.5 498.0h0M710.7 166.2h0M555.7 238.6h0M642.0 920.5h0M558.5 775.8h0M687.2 226.0h0M389.0 829.6h0M692.3 142.4h0M634.2 684.7h0M727.8 835.9h0M654.3 667.9h0M735.2 833.4h0M710.6 161.6h0M352.7 795.0h0M685.1 130.2h0M746.7 178.6h0M748.4 149.9h0M954.5 686.3h0M590.0 428.0h0M758.0 606.5h0M547.0 500.0h0M533.1 992.6h0M459.6 872.2h0M393.7 824.2h0M544.7 444.0h0M581.9 774.7h0M305.3 812.4h0M796.4 302.6h0M247.2 541.8h0M703.4 125.5h0M448.0 861.0h0M683.7 170.5h0M778.1 223.7h0M790.4 295.0h0M338.2 820.6h0M653.0 676.1h0M677.2 450.5h0M400.1 810.0h0M189.8 535.2h0M601.4 229.8h0M695.9 443.5h0M372.5 849.8h0M397.3 777.2h0M687.5 161.9h0M562.2 246.4h0M792.1 251.9h0M816.7 786.7h0M233.8 573.6h0M355.2 818.4h0M175.5 516.5h0M622.4 698.3h0M705.9 183.8h0M563.6 229.4h0M557.3 232.4h0M562.6 780.2h0M605.2 235.4h0M772.3 226.1h0M549.6 224.1h0M397.2 843.6h0M832.0 289.1h0M715.3 122.8h0M178.0 520.1h0M360.0 762.9h0M433.3 544.5h0M550.6 242.5h0M614.3 409.4h0M951.5 767.3h0M723.8 185.8h0M687.6 225.6h0M560.6 211.7h0M381.0 829.3h0M389.9 817.5h0M645.8 457.0h0M732.0 834.2h0M934.3 538.2h0M663.0 248.0h0M378.0 746.1h0M246.1 549.3h0M717.6 935.9h0M618.4 679.8h0M186.3 527.5h0M187.8 559.9h0M560.0 220.2h0M656.1 693.9h0M322.5 818.5h0M700.3 442.5h0M609.9 431.3h0M726.9 196.4h0M365.4 759.1h0M802.0 310.0h0M795.8 252.7h0M712.8 144.4h0M698.6 144.3h0M349.8 822.7h0M326.9 743.9h0M635.4 240.8h0M600.9 730.4h0M748.2 604.0h0M389.2 824.7h0M686.0 243.4h0M672.0 984.4h0M335.8 769.2h0M395.0 758.4h0M323.8 780.5h0M765.4 217.3h0M553.3 318.5h0M640.9 662.3h0M371.2 795.3h0M635.4 656.7h0M633.4 667.7h0M512.5 393.8h0M315.6 780.9h0M329.9 815.1h0M203.7 521.0h0M1062.0 662.8h0M990.5 670.3h0M329.8 835.3h0M544.9 992.6h0M768.1 569.0h0M715.6 162.5h0M504.7 881.7h0M582.4 778.6h0M984.6 738.8h0M558.5 229.9h0M645.2 658.1h0M709.8 149.8h0M679.2 148.4h0M425.7 834.8h0M588.1 765.9h0M726.2 124.4h0M362.4 787.2h0M631.6 241.8h0M711.0 202.0h0M800.4 236.0h0M401.7 857.1h0M1033.0 637.5h0M344.9 820.2h0M505.2 375.2h0M538.3 1001.6h0M577.1 227.4h0M1040.8 697.3h0M404.1 768.1h0M528.2 977.9h0M329.4 747.6h0M780.4 281.4h0M566.6 450.6h0M743.3 719.2h0M251.7 541.0h0M331.5 861.8h0M453.3 844.6h0M363.5 821.7h0M359.7 829.2h0M768.0 221.4h0M690.3 447.8h0M627.2 240.3h0M813.1 321.0h0M678.0 236.4h0M803.8 247.6h0M627.1 651.5h0M339.8 811.9h0M326.4 819.1h0M440.3 857.1h0M633.1 695.0h0M586.0 230.3h0M346.6 780.6h0M389.7 781.9h0M558.2 234.8h0M743.2 828.7h0M351.3 848.5h0M403.5 821.6h0M725.4 149.7h0M724.5 860.3h0M370.3 769.5h0M353.5 818.2h0M201.8 543.3h0M336.2 731.4h0M830.3 237.8h0M931.2 758.6h0M319.6 842.7h0M338.3 806.9h0M676.2 149.5h0M836.2 292.9h0M376.5 773.5h0M373.9 785.3h0M729.0 850.1h0M373.4 789.5h0M384.5 829.4h0M701.2 170.7h0M350.6 857.5h0M337.4 729.9h0M554.9 240.2h0M364.7 847.4h0M581.9 235.3h0M321.4 783.8h0M402.3 836.3h0M408.9 841.6h0M403.4 427.0h0M623.4 841.6h0M758.8 205.2h0M739.5 144.0h0M579.0 244.6h0M264.3 533.8h0M405.6 806.0h0M362.8 825.4h0M718.3 151.4h0M571.3 238.6h0M699.5 135.1h0M388.5 794.1h0M630.2 654.3h0M798.9 276.9h0M735.9 141.8h0M684.6 249.7h0M559.2 453.4h0M582.0 248.3h0M739.8 168.5h0M989.4 703.9h0M934.8 740.3h0M200.0 509.8h0M356.5 824.1h0M233.6 558.8h0M735.3 166.3h0M698.7 243.5h0M713.8 125.4h0M1035.1 751.6h0M787.0 229.0h0M764.8 598.1h0M533.6 480.7h0M801.5 311.7h0M661.9 684.8h0M762.4 215.7h0M433.2 847.7h0M174.7 527.4h0M769.8 237.5h0M718.3 842.0h0M745.2 168.8h0M417.9 836.3h0M627.2 661.5h0M363.0 817.8h0M690.0 161.7h0M368.6 723.1h0M393.7 812.1h0M344.2 807.3h0M247.2 500.4h0M636.0 920.5h0M723.6 225.2h0M393.4 732.3h0M377.4 845.6h0M229.2 566.9h0M373.5 817.5h0M769.6 254.4h0M624.9 651.8h0M398.3 808.5h0M407.5 822.4h0M214.9 568.1h0M312.7 811.2h0M624.0 858.1h0M707.0 240.0h0M352.6 730.1h0M358.9 748.5h0M1006.9 732.9h0M602.7 725.6h0M1034.6 652.2h0M535.0 995.9h0M531.0 1009.4h0M181.6 554.8h0M645.0 897.4h0M384.0 819.2h0M392.2 862.5h0M556.6 500.1h0M829.3 296.0h0M753.3 207.6h0M1038.3 653.2h0M960.2 694.2h0M549.5 456.7h0M442.5 841.5h0M597.5 234.5h0M356.0 787.4h0M343.7 797.9h0M681.2 136.7h0M495.4 524.2h0M398.1 829.6h0M732.3 830.7h0M556.9 498.4h0M528.2 973.4h0M537.8 995.9h0M618.6 414.6h0M976.4 680.7h0M251.5 512.6h0M620.2 455.8h0M573.6 221.4h0M735.5 183.1h0M739.3 559.7h0M686.9 167.8h0M678.6 920.5h0M571.9 240.1h0M617.5 383.6h0M198.3 559.1h0M337.2 846.5h0M623.9 648.7h0M567.3 240.5h0M644.1 669.5h0M622.5 655.3h0M629.0 696.3h0M578.5 772.8h0M393.5 797.2h0M827.8 286.8h0M346.3 801.0h0M430.9 818.2h0M404.4 810.4h0M297.9 820.2h0M784.9 578.0h0M603.8 722.4h0M682.0 231.0h0M598.5 391.5h0M628.8 403.5h0M606.3 683.5h0M840.5 225.0h0M387.9 793.2h0M394.2 845.4h0M674.6 164.6h0M378.6 740.6h0M356.7 745.4h0M351.9 825.7h0M238.4 567.4h0M439.7 833.3h0M621.8 235.2h0M311.8 803.3h0M233.7 556.3h0M541.5 1013.9h0M679.5 245.7h0M945.1 734.0h0M612.6 399.5h0M336.5 830.9h0M815.1 308.0h0M661.5 915.4h0M761.5 601.1h0M1021.9 632.0h0M809.4 224.7h0M407.2 807.2h0M548.3 230.7h0M162.3 538.0h0M368.3 795.7h0M751.6 177.2h0M630.0 672.6h0M1030.3 671.6h0M738.1 170.9h0M411.9 809.5h0M774.1 248.2h0M348.9 792.6h0M702.5 179.1h0M415.7 398.1h0M628.1 241.2h0M1011.3 637.9h0M553.2 771.0h0M793.5 582.2h0M739.6 539.0h0M394.5 755.8h0M617.3 455.8h0M318.4 802.3h0M832.1 286.2h0M380.4 762.2h0M755.4 175.2h0M629.2 679.9h0M723.0 846.9h0M675.8 431.0h0M1002.9 673.1h0M156.7 543.5h0M625.0 443.4h0M797.6 312.4h0M681.8 457.1h0M1049.1 688.3h0M373.1 815.3h0M384.0 802.5h0M688.7 729.3h0M667.5 243.3h0M524.2 1015.5h0M330.5 740.0h0M461.6 868.2h0M401.8 794.5h0M752.1 548.3h0M774.4 226.2h0M448.0 537.5h0M490.0 576.3h0M715.9 181.3h0M619.0 235.1h0M715.8 142.8h0M846.0 221.1h0M761.2 241.3h0M389.2 781.3h0M562.8 234.8h0M371.8 794.3h0M458.3 850.0h0M575.9 220.7h0M687.1 234.4h0M614.8 398.7h0M722.3 137.5h0M344.5 861.4h0M913.4 572.2h0M653.8 245.8h0M354.1 816.0h0M688.7 720.0h0M382.6 847.2h0M621.4 417.2h0M376.2 820.0h0M677.1 919.0h0M754.8 212.4h0M468.3 844.9h0M365.4 863.1h0M221.9 528.6h0M791.9 309.6h0M549.8 499.7h0M717.1 156.9h0M356.1 792.4h0M739.0 231.0h0M1052.8 713.2h0M672.8 158.2h0M740.6 824.9h0M583.0 239.3h0M686.0 712.0h0M624.8 661.2h0M801.1 244.3h0M325.0 831.8h0M697.8 123.9h0M502.8 870.2h0M924.7 716.9h0M548.8 227.2h0M356.7 797.9h0M465.8 869.1h0M761.2 605.1h0M739.5 165.7h0M630.3 649.2h0M433.0 832.4h0M618.5 671.3h0M504.7 506.1h0M676.7 141.1h0M361.2 831.2h0M643.6 680.0h0M205.8 565.3h0M344.4 795.2h0M651.5 447.1h0M152.0 542.6h0M569.0 213.8h0M549.6 225.6h0M350.0 804.9h0M777.8 198.8h0M330.0 763.1h0M777.0 203.6h0M712.0 229.0h0M493.8 360.5h0M1039.7 752.4h0M733.2 854.2h0M386.7 755.2h0M653.9 245.2h0M729.9 162.7h0M857.4 281.6h0M398.5 859.6h0M683.3 243.2h0M321.0 824.6h0M176.1 534.1h0M381.2 793.3h0M783.8 586.8h0M682.8 438.9h0M1003.8 686.4h0M555.4 214.9h0M183.0 550.4h0M241.6 513.6h0M312.2 840.2h0M737.8 141.2h0M748.4 164.6h0M395.9 810.1h0M566.6 763.7h0M838.5 296.7h0M649.0 693.2h0M381.6 869.4h0M697.0 136.4h0M598.1 227.7h0M756.3 200.3h0M617.6 656.1h0M701.6 128.0h0M374.3 867.4h0M532.1 1012.2h0M322.3 771.1h0M714.0 252.0h0M713.2 164.3h0M240.9 545.1h0M740.4 840.8h0M345.4 741.2h0M305.5 854.6h0M736.9 840.2h0M380.7 734.8h0M767.1 240.7h0M705.1 171.1h0M728.4 946.1h0M316.4 779.4h0M302.7 825.4h0M814.0 782.7h0M226.1 557.6h0M837.1 216.7h0M707.8 127.3h0M825.3 295.3h0M762.7 595.5h0M610.7 693.0h0M753.1 600.8h0M550.2 484.2h0M742.5 596.9h0M689.4 210.0h0M1032.2 668.3h0M510.8 387.1h0M1009.5 716.2h0M729.2 947.6h0M743.6 166.1h0M194.2 535.3h0M175.7 542.9h0M404.0 823.9h0M687.1 148.6h0M948.8 753.5h0M971.0 659.4h0M729.6 834.2h0M341.0 853.0h0M759.2 238.0h0M808.0 292.4h0M376.8 792.4h0M381.3 755.5h0M245.3 519.6h0M658.7 695.6h0M566.0 771.5h0M373.1 836.8h0M320.2 793.9h0M774.2 223.1h0M179.2 517.9h0M547.1 243.3h0M217.8 533.6h0M842.6 297.1h0M776.0 210.6h0M577.9 458.3h0M398.0 784.6h0M550.1 492.2h0M741.4 151.6h0M836.3 281.3h0M380.1 861.4h0M979.8 365.6h0M688.0 130.3h0M389.6 850.1h0M758.7 565.9h0M684.3 168.7h0M574.8 766.2h0M441.4 837.5h0M415.6 828.4h0M405.6 828.2h0M367.6 844.3h0M736.3 941.8h0M691.7 250.9h0M558.5 242.5h0M577.8 216.8h0M579.9 774.5h0M399.9 811.8h0M809.7 318.7h0M557.8 213.0h0M399.2 833.5h0M631.3 432.1h0M758.3 269.6h0M313.2 839.4h0M642.1 663.7h0M313.1 814.7h0M744.4 238.0h0M303.6 817.2h0M637.1 656.4h0M500.8 876.1h0M636.7 240.1h0M709.7 142.5h0M431.8 835.8h0M549.6 241.4h0M621.1 654.1h0M532.0 239.2h0M428.0 860.3h0M585.5 775.9h0M839.4 232.0h0M644.4 466.7h0M198.1 533.9h0M851.6 284.6h0M704.5 178.1h0M357.8 857.2h0M576.4 233.8h0M798.4 236.6h0M419.8 840.7h0M761.2 245.3h0M445.6 859.9h0M549.9 232.7h0M938.7 723.5h0M424.7 414.2h0M352.3 812.0h0M372.4 862.3h0M700.0 174.8h0M740.2 831.2h0M371.4 810.2h0M360.7 787.4h0M912.5 580.2h0M200.7 535.2h0M323.5 837.7h0M707.2 153.3h0M601.4 236.3h0M329.1 747.3h0M786.0 236.2h0M743.3 194.2h0M657.6 677.9h0M802.8 270.7h0M774.0 598.7h0M385.2 853.1h0M813.4 234.0h0M339.7 743.8h0M838.4 217.9h0M570.8 768.3h0M388.3 865.1h0M380.9 817.8h0M399.9 781.4h0M695.4 246.5h0M210.7 566.7h0M639.8 433.4h0M390.0 738.7h0M396.4 845.4h0M364.9 839.0h0M374.9 815.5h0M694.1 235.7h0M728.1 824.9h0M336.8 821.7h0M767.8 566.4h0M400.3 794.7h0M741.2 190.7h0M738.6 128.6h0M677.4 454.1h0M715.0 137.4h0M334.1 798.1h0M741.9 159.7h0M335.0 755.8h0M585.5 237.5h0M242.0 502.5h0M557.9 214.3h0M363.0 826.7h0M799.9 218.9h0M545.8 448.7h0M829.4 281.5h0M652.0 671.8h0M588.5 226.7h0M587.0 230.3h0M687.0 206.0h0M172.2 548.8h0M831.8 217.2h0M665.0 693.7h0M727.8 125.1h0M329.1 750.0h0M712.6 137.1h0M533.5 1008.2h0M723.1 131.4h0M625.8 659.5h0M629.1 672.5h0M328.2 776.4h0M702.2 181.3h0M657.2 674.4h0M415.1 825.2h0M361.1 782.1h0M927.3 700.0h0M411.2 832.8h0M530.3 977.1h0M371.3 741.6h0M716.1 851.5h0M1005.6 657.3h0M609.7 711.4h0M683.0 234.9h0M357.5 743.5h0M492.1 357.6h0M322.7 788.6h0M704.8 179.0h0M397.3 825.1h0M629.8 703.9h0M708.0 233.0h0M545.8 448.0h0M418.8 839.1h0M616.1 679.8h0M768.3 206.6h0M308.8 829.3h0M573.2 779.4h0M333.9 729.1h0M597.5 464.2h0M576.4 773.9h0M208.7 551.0h0M698.0 189.6h0M927.9 712.1h0M849.8 295.5h0M816.7 310.6h0M567.8 779.8h0M679.3 713.3h0M757.6 595.6h0M1072.0 652.6h0M662.0 684.7h0M415.6 830.4h0M463.4 857.4h0M563.7 238.5h0M705.2 151.9h0M200.7 531.4h0M696.1 167.3h0M650.0 680.1h0M431.3 843.6h0M621.0 842.5h0M359.2 828.1h0M580.5 459.6h0M551.1 248.5h0M794.4 288.0h0M183.1 567.6h0M375.2 822.8h0M518.0 522.4h0M965.4 379.6h0M305.4 841.1h0M186.7 524.7h0M261.3 491.7h0M809.3 312.4h0M388.7 826.3h0M790.8 589.3h0M714.1 171.8h0M771.1 601.7h0M207.2 561.3h0M332.5 787.7h0M363.3 802.5h0M382.4 744.1h0M771.4 599.8h0M639.0 465.4h0M716.2 576.3h0M752.3 177.3h0M402.3 844.7h0M662.0 688.7h0M422.7 850.8h0M365.1 731.6h0M615.9 233.7h0M598.5 233.9h0M367.4 843.2h0M682.6 126.7h0M713.2 932.7h0M1067.6 705.0h0M158.3 536.2h0M515.2 881.5h0M627.9 667.3h0M217.9 545.3h0M746.0 718.9h0M348.0 756.3h0M352.7 797.7h0M396.2 807.5h0M618.7 382.3h0M792.3 247.9h0M1049.6 679.9h0M162.6 546.8h0M611.9 381.8h0M1067.2 671.3h0M616.9 417.5h0M517.5 917.5h0M498.5 361.7h0M400.3 838.7h0M242.9 514.8h0M643.7 244.2h0M635.3 702.6h0M552.3 488.3h0M784.8 227.5h0M564.8 774.5h0M385.6 842.2h0M570.9 776.9h0M815.1 219.3h0M394.4 831.3h0M575.3 443.5h0M742.4 181.8h0M626.9 393.1h0M457.2 593.4h0M768.8 593.9h0M789.4 598.2h0M386.1 778.0h0M715.3 155.6h0M1010.2 683.7h0M173.9 557.8h0M675.6 145.8h0M772.3 604.5h0M689.6 117.5h0M705.6 169.2h0M328.3 798.5h0M624.8 695.5h0M398.4 781.1h0M447.0 1042.6h0M260.8 495.0h0M544.0 444.0h0M535.2 1012.0h0M741.6 828.8h0M606.9 720.8h0M481.4 860.5h0M225.0 528.1h0M188.5 513.3h0M194.8 548.5h0M360.6 737.9h0M704.1 136.0h0M820.5 291.7h0M227.8 578.4h0M726.2 946.8h0M371.7 862.9h0M556.8 312.7h0M686.2 176.6h0M337.8 827.5h0M763.0 233.7h0M782.0 586.2h0M413.6 830.6h0M629.0 692.7h0M730.0 848.8h0M680.7 145.3h0M687.8 120.8h0M677.6 162.7h0M764.1 232.7h0M735.1 822.8h0M380.2 827.8h0M706.1 248.1h0M242.7 553.9h0M774.1 244.1h0M718.3 934.0h0M668.2 438.4h0M345.7 835.0h0M677.7 132.6h0M748.1 157.0h0M916.0 563.7h0M379.8 785.0h0M354.9 793.1h0M650.0 672.9h0M782.8 221.4h0M957.2 697.4h0M320.9 775.8h0M758.5 555.0h0M734.6 143.7h0M358.9 840.1h0M582.8 452.8h0M705.9 180.0h0M377.7 794.7h0M723.2 141.8h0M848.7 285.7h0M573.2 219.0h0M269.4 532.6h0M404.8 385.8h0M810.3 240.4h0M686.5 115.5h0M373.0 759.7h0M385.5 794.7h0M370.3 813.1h0M205.9 521.1h0M656.3 687.2h0M632.2 665.7h0M1066.2 639.4h0M831.1 292.3h0M631.1 658.4h0M774.1 250.0h0M222.0 520.5h0M732.7 592.5h0M719.2 437.9h0M635.9 654.0h0M727.1 172.3h0M240.7 506.6h0M173.8 544.4h0M822.0 793.3h0M235.2 573.2h0M766.8 188.6h0M639.7 414.8h0M636.8 650.2h0M731.7 141.6h0M196.5 547.3h0M618.6 691.7h0M376.8 837.2h0M839.6 280.8h0M712.8 119.4h0M694.2 133.8h0M360.5 749.9h0M391.0 765.0h0M445.9 856.4h0M822.0 788.0h0M379.1 863.7h0M606.2 684.5h0M649.7 461.5h0M322.3 808.0h0M328.4 817.3h0M814.2 276.6h0M767.6 223.0h0M1027.8 638.5h0M361.9 808.4h0M483.8 865.1h0M389.7 830.6h0M640.1 242.8h0M717.9 843.7h0M391.8 799.7h0M372.7 859.5h0M340.0 863.8h0M930.2 745.2h0M718.3 153.2h0M381.0 850.3h0M588.8 221.7h0M541.4 494.8h0M326.5 745.7h0M758.4 279.5h0M761.4 596.6h0M758.7 563.9h0M666.0 709.3h0M920.2 709.0h0M982.3 646.1h0M702.0 244.5h0M356.5 804.1h0M746.9 851.1h0M349.8 839.0h0M502.2 879.7h0M338.1 767.1h0M750.5 145.6h0M376.5 806.6h0M756.6 545.0h0M357.1 843.6h0M690.5 237.3h0M318.3 832.6h0M181.7 517.1h0M714.2 155.9h0M615.7 382.7h0M721.3 173.3h0M653.2 675.7h0M370.4 765.2h0M556.6 765.4h0M421.3 853.8h0M752.4 169.8h0M572.7 771.1h0M1059.8 667.9h0M560.6 499.2h0M357.1 785.8h0M382.8 742.3h0M407.7 831.8h0M398.0 837.9h0M737.0 823.8h0M403.0 841.1h0M768.9 202.7h0M610.1 680.8h0M170.6 520.6h0M331.2 823.5h0M751.5 199.9h0M291.6 829.6h0M626.2 659.9h0M769.3 606.5h0M348.8 747.1h0M394.0 803.1h0M356.9 806.5h0M779.3 593.3h0M780.8 247.4h0M751.8 594.6h0M571.7 476.0h0M690.0 735.2h0M665.1 686.3h0M601.7 226.6h0M781.8 201.0h0M393.5 868.8h0M840.5 285.7h0M225.9 526.7h0M1023.1 624.3h0M363.7 751.2h0M356.0 791.9h0M526.1 1020.6h0M617.5 664.8h0M639.3 698.9h0M756.2 197.2h0M621.5 704.2h0M392.2 832.1h0M749.3 171.7h0M173.0 556.3h0M754.0 239.4h0M360.9 753.0h0M365.8 778.4h0M763.0 605.9h0M164.4 556.2h0M677.4 460.7h0M689.0 155.3h0M370.1 808.2h0M430.5 840.2h0M247.0 505.2h0M559.1 221.9h0M445.3 840.3h0M216.4 570.1h0M510.0 516.3h0M779.7 599.2h0M467.2 420.8h0M334.8 860.6h0M235.6 543.9h0M718.5 580.5h0M625.6 395.8h0M306.9 819.5h0M401.8 860.7h0M423.5 834.6h0M741.4 161.8h0M784.2 252.4h0M297.0 828.9h0M227.9 557.2h0M716.7 938.0h0M576.9 782.0h0M655.1 674.2h0M220.5 547.9h0M237.0 558.3h0M644.4 674.3h0M316.1 807.1h0M788.0 307.4h0M167.4 535.2h0M646.7 700.4h0M347.8 851.5h0M391.4 872.9h0M403.9 839.1h0M325.3 786.0h0M750.8 165.2h0M371.0 785.5h0M744.6 163.4h0M385.1 812.6h0M1011.1 717.6h0M298.9 839.9h0M428.9 848.1h0M341.0 822.1h0M361.5 721.6h0M631.9 418.1h0M558.5 220.2h0M755.3 842.3h0M378.5 854.7h0M620.6 694.8h0M688.1 186.8h0M334.6 837.6h0M356.5 852.8h0M394.9 801.0h0M722.1 150.7h0M550.5 505.8h0M965.7 758.3h0M728.0 589.3h0M719.2 132.2h0M391.6 807.4h0M334.1 860.5h0M576.5 470.8h0M365.6 860.3h0M791.6 587.6h0M814.3 313.3h0M417.5 839.7h0M727.3 469.9h0M189.6 551.5h0M641.4 689.1h0M767.3 792.8h0M731.0 846.6h0M344.3 744.8h0M621.3 384.6h0M761.2 796.0h0M596.7 236.1h0M724.0 941.4h0M618.0 845.5h0M351.7 855.2h0M1029.8 750.9h0M371.9 803.4h0M205.8 544.6h0M362.6 724.5h0M561.2 227.9h0M433.8 823.5h0M204.5 535.1h0M717.9 837.8h0M518.6 877.8h0M395.2 861.3h0M242.1 558.8h0M334.9 851.6h0M773.1 242.2h0M988.3 654.0h0M795.3 262.9h0M737.6 940.6h0M307.6 835.5h0M816.6 241.0h0M529.6 1014.0h0M394.2 789.5h0M795.9 583.1h0M642.8 710.7h0M594.0 744.4h0M507.5 398.9h0M805.8 267.8h0M221.2 529.5h0M677.3 160.3h0M741.5 597.0h0M400.5 801.5h0M728.2 860.4h0M674.5 122.6h0M644.7 687.0h0M691.2 241.5h0M787.4 303.0h0M325.9 811.4h0M619.2 657.9h0M728.5 127.8h0M679.2 247.5h0M360.7 788.3h0M749.9 182.3h0M724.5 944.6h0M400.6 814.4h0M189.9 530.6h0M804.4 318.7h0M517.2 917.8h0M808.4 316.9h0M775.6 592.9h0M777.5 240.1h0M614.5 648.6h0M304.1 817.4h0M571.7 242.3h0M379.5 869.7h0M800.8 212.5h0M333.6 771.6h0M626.0 650.1h0M639.3 701.9h0M784.4 229.9h0M707.1 168.1h0M549.8 319.7h0M315.1 832.5h0M720.4 175.0h0M746.4 170.3h0M419.1 812.7h0M334.6 735.7h0M596.7 227.0h0M701.6 162.6h0M699.8 169.1h0M455.3 398.8h0M764.9 224.7h0M357.4 856.9h0M611.4 661.7h0M379.8 728.3h0M721.4 185.7h0M385.4 830.0h0M399.5 807.7h0M411.8 827.9h0M156.8 555.8h0M247.4 549.3h0M711.0 459.2h0M390.1 835.7h0M393.8 733.7h0M350.1 859.7h0M714.1 146.1h0M342.0 835.8h0M759.0 231.0h0M485.7 535.5h0M764.7 789.3h0M531.4 1018.8h0M622.6 687.3h0M561.0 229.9h0M746.9 173.5h0M753.8 271.0h0M729.7 937.8h0M347.4 754.0h0M240.3 507.1h0M689.4 127.0h0M399.5 805.9h0M361.9 811.1h0M757.3 570.1h0M786.0 216.8h0M395.0 837.4h0M1030.8 638.8h0M530.0 417.7h0M365.9 860.8h0M729.0 123.0h0M611.3 677.5h0M778.1 253.0h0M564.5 780.4h0M705.7 129.9h0M378.0 781.6h0M815.3 234.9h0M698.2 144.8h0M684.2 127.9h0M393.1 747.7h0M391.5 865.2h0M728.2 949.7h0M243.5 548.2h0M670.0 244.0h0M671.3 720.8h0M649.3 687.7h0M463.5 561.4h0M545.0 998.8h0M783.0 231.5h0M806.3 272.0h0M449.8 854.0h0M364.4 770.9h0M748.8 149.5h0M625.0 237.1h0M205.9 567.2h0M611.7 234.8h0M616.3 397.9h0M364.8 790.6h0M203.0 536.0h0M314.1 828.3h0M753.4 273.5h0M770.7 590.2h0M237.4 503.1h0M679.2 172.4h0M529.6 988.6h0M725.9 124.1h0M701.0 205.0h0M602.8 237.5h0M700.0 251.2h0M220.5 567.1h0M329.3 846.8h0M1020.5 687.8h0M644.4 911.5h0M556.6 775.4h0M714.1 132.1h0M480.0 863.4h0M376.8 849.0h0M463.9 846.1h0M790.4 213.4h0M193.3 538.7h0M747.3 813.3h0M211.8 523.9h0M530.8 986.9h0M213.4 529.9h0M375.2 798.5h0M731.6 270.0h0M373.1 734.8h0M705.1 250.1h0M734.6 849.2h0M578.3 236.4h0M437.2 557.5h0M401.0 855.4h0M338.0 819.0h0M413.0 423.2h0M1008.6 627.6h0M720.6 121.1h0M749.9 596.0h0M381.7 809.5h0M406.0 404.1h0M530.5 979.8h0M925.6 545.0h0M550.6 227.8h0M732.4 945.4h0M603.1 224.6h0M776.9 200.6h0M730.0 173.8h0M645.7 244.4h0M202.1 519.0h0M729.0 237.0h0M767.2 239.6h0M792.7 590.8h0M840.1 230.4h0M556.6 243.5h0M344.9 808.7h0M401.1 829.3h0M625.1 669.1h0M841.5 282.4h0M227.9 544.4h0M224.3 539.4h0M547.6 219.8h0M319.6 806.4h0M358.4 844.5h0M982.9 687.5h0M999.7 757.5h0M685.2 182.7h0M735.6 180.1h0M1052.4 721.5h0M205.1 509.0h0M608.2 403.8h0M627.6 405.3h0M435.6 830.6h0M712.5 446.1h0M718.5 176.1h0M376.2 745.8h0M709.6 164.8h0M400.4 784.4h0M618.9 701.4h0M585.2 237.2h0M162.9 533.2h0M391.5 773.4h0M366.6 814.0h0M608.8 689.6h0M341.9 863.6h0M336.1 738.3h0M611.2 674.3h0M783.4 241.9h0M719.0 233.0h0M550.0 456.0h0M695.9 173.5h0M582.1 242.4h0M396.7 860.4h0M382.6 866.3h0M231.6 567.3h0M808.1 233.9h0M338.0 855.1h0M370.7 837.9h0M206.4 512.3h0M990.3 721.0h0M823.1 290.3h0M922.8 549.1h0M353.0 778.5h0M706.8 246.1h0M724.7 137.9h0M547.7 233.4h0M622.0 701.8h0M734.2 937.9h0M450.2 843.1h0M845.2 283.6h0M565.1 219.0h0M689.8 143.3h0M179.6 515.1h0M730.7 151.4h0M998.6 636.9h0M266.8 535.9h0M395.5 786.7h0M608.0 401.8h0M690.2 254.6h0M682.0 708.0h0M1072.9 685.6h0M444.1 853.2h0M377.3 768.3h0M445.7 403.0h0M436.8 834.8h0M797.3 310.5h0M810.1 233.6h0M365.0 747.1h0M350.1 850.9h0M745.1 158.3h0M372.6 816.9h0M763.9 211.1h0M527.8 415.0h0M221.6 522.5h0M725.4 454.2h0M737.0 195.6h0M417.5 849.5h0M714.6 153.6h0M565.7 490.9h0M694.3 166.1h0M507.6 399.2h0M537.8 993.1h0M228.9 570.9h0M738.7 149.4h0M756.3 271.9h0M680.3 159.1h0M775.9 588.4h0M919.6 696.2h0M512.0 876.9h0M458.0 852.8h0M367.6 843.5h0M618.5 666.5h0M621.7 671.1h0M556.2 216.8h0M656.4 679.5h0M622.0 443.3h0M739.9 176.5h0M385.0 804.8h0M611.7 666.9h0M687.3 171.7h0M537.2 1012.4h0M733.4 149.6h0M811.2 302.1h0M635.2 699.3h0M344.1 791.6h0M927.5 553.1h0M374.5 832.5h0M692.1 431.9h0M351.3 811.3h0M634.4 456.6h0M533.8 426.2h0M530.5 992.8h0M734.0 939.6h0M663.9 459.4h0M557.3 211.8h0M323.1 803.8h0M990.0 759.9h0M811.2 274.1h0M563.8 767.6h0M812.2 212.4h0M750.7 272.6h0M361.8 812.2h0M347.6 741.0h0M758.2 170.1h0M764.5 204.2h0M995.4 760.0h0M745.1 568.9h0M185.5 541.6h0M533.6 1006.6h0M611.5 394.3h0M675.3 147.8h0M632.0 650.0h0M794.6 587.9h0M755.8 154.3h0M794.8 249.1h0M687.0 158.6h0M578.2 478.6h0M694.2 147.1h0M211.4 527.7h0M757.3 542.3h0M787.2 239.9h0M725.7 171.7h0M228.5 545.4h0M708.2 156.1h0M654.7 684.3h0M450.7 869.3h0M735.5 128.5h0M620.7 686.0h0M729.3 944.3h0M516.4 872.6h0M722.3 858.7h0M677.2 243.2h0M768.8 214.9h0M1014.3 762.6h0M635.4 654.0h0M311.0 812.4h0M553.8 234.6h0M236.3 525.7h0M775.6 239.7h0M678.1 166.5h0M388.8 816.0h0M624.4 688.0h0M269.4 533.7h0M227.3 543.2h0M526.5 1016.4h0M727.0 186.8h0M371.2 851.3h0M557.8 240.0h0M820.3 224.8h0M688.9 250.9h0M763.8 593.7h0M368.7 792.3h0M703.0 141.6h0M651.8 698.3h0M443.4 405.2h0M356.7 801.6h0M652.4 245.6h0M558.5 453.2h0M386.3 815.4h0M652.8 465.4h0M611.6 658.7h0M672.5 687.2h0M976.5 749.1h0M636.9 662.2h0M764.5 221.8h0M1013.6 668.6h0M681.8 117.9h0M259.8 489.5h0M743.2 858.9h0M732.8 126.5h0M729.5 941.8h0M247.1 497.8h0M819.3 225.1h0M352.5 801.7h0M606.8 690.3h0M630.2 420.7h0M710.5 124.6h0M602.2 678.6h0M620.0 644.9h0M350.8 786.0h0M712.6 447.1h0M1029.7 680.0h0M615.2 393.6h0M331.4 783.6h0M733.9 191.4h0M691.8 180.3h0M359.5 833.0h0M919.4 557.0h0M360.7 825.5h0M624.6 387.9h0M536.3 991.3h0M819.0 316.2h0M554.9 223.5h0M528.4 968.8h0M590.9 222.4h0M366.4 852.6h0M572.3 231.1h0M684.5 177.3h0M714.2 158.9h0M349.2 736.8h0M746.4 211.0h0M348.2 809.3h0M776.3 573.7h0M461.4 391.7h0M559.2 453.3h0M537.9 997.7h0M300.7 818.1h0M572.7 768.5h0M531.3 989.4h0M359.9 736.9h0M732.5 191.3h0M504.6 877.9h0M705.0 175.1h0M642.3 424.4h0M999.9 704.7h0M618.2 665.3h0M208.7 523.4h0M719.2 854.7h0M834.3 291.5h0M556.0 492.4h0M609.3 655.3h0M564.3 219.0h0M185.9 536.7h0M321.9 849.8h0M759.7 202.8h0M436.4 820.7h0M717.8 184.4h0M313.1 837.2h0M835.0 286.1h0M402.1 858.1h0M183.9 527.4h0M912.8 574.7h0M499.7 348.8h0M981.5 658.4h0M325.3 814.1h0M994.0 764.0h0M810.1 242.1h0M596.7 223.5h0M1010.7 702.5h0M393.4 828.5h0M610.0 378.1h0M632.4 452.4h0M725.0 938.7h0M557.5 246.6h0M408.8 818.5h0M684.5 248.0h0M545.8 323.4h0M390.1 839.1h0M695.0 230.4h0M780.4 591.4h0M333.9 822.0h0M355.1 805.6h0M721.2 941.6h0M1002.8 768.0h0M216.6 535.8h0M658.0 684.9h0M690.4 232.8h0M794.3 302.3h0M985.0 372.1h0M596.7 470.0h0M635.7 671.1h0M817.7 216.4h0M782.7 593.0h0M771.5 594.0h0M178.1 559.5h0M703.5 172.9h0M577.8 776.3h0M582.1 219.1h0M568.0 770.2h0M690.2 134.0h0M602.0 236.2h0M243.6 522.4h0M1019.1 715.2h0M622.2 673.0h0M732.2 169.1h0M726.3 588.4h0M171.2 535.4h0M558.9 225.9h0M650.3 465.0h0M353.9 827.6h0M220.4 575.1h0M315.1 833.5h0M520.1 406.6h0M833.6 279.8h0M394.9 760.4h0M773.3 234.7h0M217.8 568.0h0M658.4 688.0h0M765.1 222.2h0M931.2 537.9h0M698.6 124.5h0M537.4 1014.6h0M330.7 859.8h0M571.9 226.8h0M664.7 428.8h0M396.5 828.3h0M594.0 454.6h0M810.4 320.1h0M764.6 196.9h0M745.6 177.8h0M552.5 262.5h0M382.4 727.3h0M462.7 854.3h0M355.2 844.0h0M789.6 250.7h0M651.1 693.7h0M502.9 885.3h0M684.1 253.3h0M1006.7 650.3h0M782.8 230.1h0M165.9 559.2h0M999.6 663.1h0M788.4 592.4h0M539.7 1011.2h0M565.6 782.2h0M752.3 205.5h0M816.0 215.4h0M348.3 728.5h0M849.2 297.7h0M344.1 761.0h0M757.4 194.9h0M682.4 129.9h0M388.0 866.9h0M503.0 868.4h0M714.2 141.8h0M442.2 845.0h0M702.6 242.6h0M360.1 858.7h0M744.0 274.4h0M211.7 534.5h0M669.4 690.2h0M930.4 541.0h0M738.5 152.4h0M716.3 140.0h0M752.0 228.4h0M314.4 820.7h0M736.5 133.3h0M386.2 748.3h0M398.5 766.1h0M491.5 352.3h0M722.2 844.2h0M918.2 559.8h0M695.6 141.6h0M443.2 865.4h0M385.5 854.6h0M391.6 757.5h0M356.0 790.8h0M632.0 693.8h0M434.8 847.6h0M613.3 395.9h0M763.7 601.5h0M706.7 146.0h0M396.6 846.2h0M829.4 278.0h0M473.4 552.8h0M839.4 292.6h0M685.7 119.8h0M726.5 941.3h0M593.6 444.8h0M773.4 236.4h0M247.2 496.9h0M201.0 520.6h0M678.5 116.0h0M562.5 766.0h0M642.3 420.4h0M714.9 148.6h0M721.0 460.7h0M351.5 805.3h0M531.1 974.3h0M693.9 149.8h0M606.9 718.5h0M521.0 422.5h0M687.0 216.4h0M639.9 441.9h0M338.6 818.3h0M757.3 552.8h0M221.5 525.5h0M715.0 239.0h0M467.2 418.2h0M944.3 780.0h0M471.8 856.6h0M760.5 216.7h0M745.1 852.4h0M577.7 222.2h0M734.0 233.0h0M500.8 357.0h0M656.9 690.8h0M376.6 856.2h0M653.4 677.7h0M760.1 277.2h0M1033.0 723.0h0M926.8 714.7h0M913.4 573.7h0M698.8 141.4h0M717.1 139.1h0M719.8 126.6h0M562.2 771.6h0M757.5 598.3h0M411.3 842.4h0M619.0 386.6h0M446.0 842.6h0M622.1 400.8h0M686.1 253.8h0M569.5 781.0h0M552.0 240.3h0M389.6 851.5h0M733.0 165.9h0M563.6 241.7h0M463.7 860.0h0M481.3 531.3h0M350.6 803.4h0M562.0 775.5h0M704.9 151.7h0M1018.1 772.6h0M615.6 777.6h0M806.9 228.7h0M376.7 805.3h0M769.7 235.0h0M540.6 999.8h0M741.5 144.7h0M978.5 379.0h0M1075.3 650.5h0M800.0 247.4h0M601.3 460.4h0M850.4 286.4h0M350.9 817.5h0M919.8 692.6h0M530.5 984.3h0M936.6 748.6h0M574.4 244.6h0M709.2 153.8h0M740.0 273.2h0M598.7 230.5h0M769.1 190.9h0M647.3 451.6h0M450.3 870.9h0M338.4 766.5h0M189.3 562.3h0M739.6 183.8h0M1035.4 728.3h0M411.9 819.8h0M742.0 143.1h0M174.5 519.9h0M847.1 294.4h0M173.0 515.7h0M953.5 677.3h0M196.9 566.6h0M758.6 604.1h0M463.0 414.1h0M935.6 375.4h0M670.0 249.7h0M222.1 518.1h0M597.1 737.9h0M640.8 671.8h0M405.1 388.5h0M569.6 228.9h0M622.8 389.0h0M756.3 537.3h0M913.6 578.5h0M768.3 218.7h0M730.3 591.0h0M552.3 223.8h0M670.8 245.8h0M376.4 764.9h0M399.3 767.7h0M748.3 595.1h0M719.7 837.9h0M634.5 880.0h0M343.0 862.1h0M1073.0 680.9h0M372.9 815.9h0M1011.8 700.4h0M394.8 863.6h0M721.1 935.0h0M360.2 736.3h0M942.1 731.1h0M818.4 312.2h0M710.3 147.7h0M665.0 453.6h0M813.0 230.8h0M752.3 277.8h0M364.9 783.5h0M378.0 807.2h0M718.6 939.4h0M731.0 820.2h0M771.2 210.9h0M384.8 736.4h0M565.0 230.4h0M491.4 864.5h0M516.0 402.5h0M687.3 141.9h0M370.0 832.8h0M723.9 161.0h0M365.5 860.7h0M346.9 719.3h0M559.6 248.6h0M347.0 799.1h0M389.1 749.3h0M573.1 784.0h0M176.2 559.5h0M791.3 237.0h0M731.5 821.9h0M791.8 590.6h0M419.6 844.4h0M345.6 755.1h0M505.5 525.5h0M722.1 157.2h0M487.4 353.7h0M386.3 829.8h0M837.2 268.0h0M622.8 644.1h0M759.1 175.8h0M730.6 195.6h0M555.8 212.1h0M305.7 807.7h0M368.0 861.4h0M158.2 538.2h0M658.0 706.7h0M381.8 795.8h0M375.2 845.8h0M623.6 670.5h0M377.4 844.9h0M732.6 182.2h0M573.1 227.8h0M811.5 237.1h0M772.0 228.0h0M644.9 683.5h0M998.2 740.0h0M1042.4 692.2h0M572.3 225.0h0M591.8 748.8h0M616.2 648.1h0M619.7 664.7h0M691.8 132.6h0M351.6 820.0h0M478.3 865.5h0M233.6 561.9h0M1007.2 747.8h0M817.3 302.2h0M806.4 212.3h0M195.9 519.3h0M170.2 524.5h0M255.1 496.2h0M368.2 810.3h0M741.7 147.8h0M727.2 136.6h0M388.0 786.4h0M1006.4 623.7h0M393.0 855.8h0M559.8 488.3h0M613.2 646.1h0M363.0 798.7h0M390.1 756.3h0M577.3 486.6h0M200.9 510.5h0M160.9 557.9h0M324.3 798.9h0M821.1 286.3h0M628.8 677.8h0M327.4 853.3h0M703.2 148.1h0M390.0 858.8h0M189.4 554.9h0M368.9 836.9h0M535.8 474.1h0M720.8 175.0h0M298.1 826.2h0M217.3 554.0h0M804.4 307.8h0M781.6 246.2h0M984.2 683.5h0M565.7 243.6h0M584.1 221.3h0M160.9 544.6h0M388.6 856.6h0M631.7 679.3h0M196.5 542.4h0M353.1 834.9h0M552.5 503.4h0M778.7 216.8h0M740.9 187.8h0M389.1 796.7h0M177.5 518.7h0M815.4 300.4h0M334.4 773.4h0M792.8 596.8h0M307.3 855.3h0M690.6 139.7h0M800.7 314.8h0M691.4 239.2h0M390.7 814.1h0M236.2 567.8h0M594.7 224.7h0M834.0 231.1h0M754.0 196.0h0M640.8 678.6h0M804.0 286.0h0M314.7 821.3h0M516.6 922.0h0M732.0 253.0h0M737.0 849.4h0M629.2 666.3h0M417.4 844.7h0M544.0 990.6h0M586.6 224.4h0M323.5 823.7h0M352.7 787.8h0M158.1 557.5h0M407.9 799.6h0M1018.6 623.3h0M675.0 125.6h0M332.2 858.5h0M706.2 130.9h0M678.0 697.3h0M778.9 198.9h0M221.5 532.2h0M640.5 889.6h0M204.2 533.1h0M636.6 468.9h0M338.2 753.0h0M663.3 247.5h0M649.2 438.8h0M299.1 824.5h0M1002.0 633.0h0M829.8 240.2h0M566.1 212.5h0M775.4 251.0h0M555.3 221.2h0M356.3 822.4h0M719.1 181.1h0M196.1 509.5h0M620.7 783.2h0M165.4 536.0h0M623.7 468.9h0M667.5 981.1h0M354.8 845.8h0M617.9 644.1h0M632.4 413.9h0M794.6 590.3h0M773.2 250.6h0M798.0 213.7h0M564.3 770.2h0M737.5 595.0h0M845.3 278.2h0M821.5 246.6h0M1013.8 665.5h0M370.3 798.9h0M346.6 786.6h0M241.4 517.8h0M529.5 1010.2h0M262.0 487.8h0M351.1 739.3h0M363.8 860.6h0M560.7 794.7h0M744.5 161.2h0M225.6 574.7h0M912.3 580.9h0M569.7 231.7h0M787.6 223.1h0M366.6 817.2h0M197.2 549.0h0M984.0 735.7h0M387.3 741.4h0M620.0 388.9h0M360.4 770.4h0M767.1 228.8h0M485.8 522.7h0M781.0 595.9h0M166.7 541.0h0M999.2 691.3h0M922.7 552.2h0M1041.0 738.9h0M377.9 853.5h0M746.0 819.5h0M437.9 850.4h0M346.2 805.0h0M383.3 746.7h0M791.2 267.5h0M604.3 680.3h0M351.1 825.4h0M399.0 854.7h0M787.6 291.6h0M620.4 848.5h0M353.3 840.8h0M608.7 400.3h0M360.3 766.7h0M590.5 232.2h0M340.6 734.8h0M568.9 451.2h0M311.0 846.3h0M707.5 249.4h0M681.6 241.0h0M300.2 842.6h0M410.8 809.6h0M762.9 188.6h0M379.7 803.2h0M443.8 849.6h0M405.2 765.0h0M606.8 232.4h0M383.7 800.7h0M787.7 247.2h0M377.4 785.1h0M822.3 281.9h0M782.5 249.8h0M714.9 184.0h0M792.8 221.2h0M375.3 770.7h0M855.5 285.4h0M309.4 837.2h0M789.9 230.1h0M680.2 249.6h0M638.4 682.8h0M735.9 457.3h0"/>
<path stroke="#c6b7db" d="M213.4 547.4h0M228.8 556.0h0M266.6 539.6h0M821.4 232.9h0M271.6 537.7h0M808.0 217.0h0M171.7 537.9h0M797.5 238.9h0M650.8 435.3h0M794.7 246.1h0M680.7 447.9h0M257.5 544.6h0M238.6 542.3h0M794.4 212.1h0M247.2 525.3h0M171.6 518.5h0M583.7 445.5h0M237.1 547.6h0M172.4 564.0h0M250.6 522.8h0M612.9 448.2h0M647.9 441.0h0M252.9 550.0h0M624.5 430.0h0M247.9 544.7h0M689.3 450.0h0M214.6 531.9h0M244.9 552.3h0M624.1 443.7h0M674.4 459.4h0M256.9 546.3h0M233.7 548.0h0M797.6 209.1h0M239.1 540.2h0M692.2 438.0h0"/>
<path stroke="#c3b2dd" d="M242.8 549.8h0M244.2 534.1h0M184.0 564.4h0M695.3 445.7h0M619.5 394.5h0M202.6 521.1h0M169.0 541.8h0M644.7 459.5h0M243.6 523.1h0M607.9 447.9h0M570.1 458.1h0M574.1 445.3h0M628.0 418.5h0M235.7 534.3h0M250.8 527.0h0M820.9 216.4h0M663.2 445.1h0M190.8 518.1h0M237.1 540.0h0M183.0 517.2h0M647.8 456.8h0M165.7 554.7h0M259.3 527.2h0M618.8 399.0h0M674.2 462.1h0M758.2 272.4h0M192.7 523.2h0M640.2 459.5h0M249.5 547.8h0M592.8 469.4h0M602.2 473.9h0M626.8 401.1h0M746.2 556.1h0M236.7 536.0h0M269.1 539.4h0M742.4 552.7h0M253.9 530.8h0M253.3 542.6h0M259.8 536.3h0"/>
<path stroke="#c0acde" d="M1020.9 677.0h0M627.6 691.7h0M1004.5 692.6h0M1001.2 776.8h0M985.7 740.4h0M968.7 749.8h0M1045.2 721.0h0M1034.6 751.1h0M1038.0 658.0h0M976.8 708.5h0M955.6 728.4h0M361.5 776.3h0M1039.7 650.1h0M213.8 517.5h0M631.4 416.5h0M963.7 713.8h0M639.9 466.0h0M647.6 704.5h0M1003.5 760.8h0M231.7 538.2h0M1052.5 651.2h0M1032.6 636.4h0M1032.4 687.6h0M572.6 459.6h0M962.1 745.6h0M982.2 732.5h0M1032.2 745.2h0M1074.4 681.9h0M178.4 524.1h0M621.8 468.1h0M977.2 678.8h0M1015.6 641.7h0M998.8 685.9h0M1025.3 675.1h0M252.6 538.8h0M186.2 556.7h0M981.1 683.2h0M974.9 699.4h0M968.5 664.0h0M1014.1 681.1h0M980.9 760.7h0M609.9 467.5h0M279.6 530.4h0M972.5 741.0h0M713.5 848.8h0M257.0 526.3h0M989.1 678.2h0M1014.9 733.6h0M182.7 511.2h0M977.4 732.9h0M757.6 595.3h0M1018.0 645.0h0M960.6 718.2h0M996.8 751.5h0M978.5 706.4h0M580.5 472.5h0M1022.9 765.2h0M962.8 754.0h0M601.5 448.9h0M994.2 678.7h0M548.7 232.2h0M1020.0 711.8h0M827.9 232.2h0M579.1 471.1h0M930.7 735.0h0M1021.0 751.2h0M251.8 536.1h0M1006.7 721.4h0M242.9 540.5h0M974.3 742.1h0M1042.6 684.0h0M631.4 411.5h0M956.9 734.3h0M988.4 677.3h0M534.2 237.2h0M979.9 672.5h0M658.2 450.0h0M333.1 764.6h0M500.6 351.8h0M972.0 770.3h0M1031.3 758.4h0M991.6 693.6h0M717.2 845.3h0M797.9 211.3h0M932.2 753.8h0M929.2 727.8h0M166.4 555.3h0M982.1 751.5h0M1018.1 747.4h0M812.4 235.7h0M1003.3 723.2h0M610.5 246.2h0M680.4 459.3h0M983.0 680.3h0M945.3 739.7h0M1063.6 646.6h0M830.4 233.9h0M596.7 465.6h0M564.9 484.2h0M1005.8 721.1h0M203.6 527.4h0M1019.1 657.0h0M771.9 564.5h0M1003.4 693.5h0M212.6 537.5h0M1008.1 757.4h0M980.1 735.6h0M984.5 769.0h0M677.7 458.9h0M754.2 192.6h0M653.6 464.8h0M666.9 436.1h0M767.0 573.1h0M262.8 493.2h0M270.5 535.9h0M929.7 542.2h0M1054.1 634.0h0M266.2 538.4h0M605.6 403.8h0M1062.2 711.0h0M1046.0 634.6h0M955.0 765.8h0M947.5 724.2h0M1048.5 654.2h0M1013.4 678.3h0M962.0 740.0h0M965.0 728.0h0M995.9 753.9h0M976.4 768.7h0M838.1 225.7h0M243.1 533.8h0M582.5 446.5h0M950.9 771.7h0M1030.9 631.8h0M913.0 573.7h0M1026.2 649.5h0M1027.0 752.3h0M590.2 439.5h0M246.8 525.9h0M1038.5 729.4h0M1070.2 692.9h0M970.9 676.0h0M230.4 527.2h0M278.5 529.9h0M959.3 710.0h0M1027.7 715.5h0M742.3 558.5h0M987.9 729.2h0M997.4 775.4h0M913.4 570.4h0M987.8 666.6h0M1053.3 712.8h0M165.9 546.9h0M1033.2 692.1h0M1057.5 696.3h0M496.2 355.6h0M637.5 884.8h0M975.7 698.3h0M955.1 724.0h0M599.7 463.7h0M975.1 681.6h0M1034.6 692.6h0M988.6 691.1h0M986.0 735.5h0M992.1 667.6h0M1027.3 756.7h0M1041.2 696.4h0M256.9 530.6h0M992.3 711.2h0M971.8 693.0h0M1002.9 648.4h0M1058.1 729.7h0M824.2 234.8h0M978.3 694.7h0M996.9 778.6h0"/>
<path stroke="#bda7e0" d="M589.2 459.7h0M1034.9 656.5h0M1033.1 678.1h0M1046.8 740.1h0M1014.5 701.5h0M835.6 219.4h0M237.2 544.1h0M519.5 433.0h0M1032.6 633.8h0M260.1 534.1h0M249.5 534.5h0M1027.4 753.3h0M1048.7 749.0h0M1026.0 687.0h0M976.6 739.0h0M248.2 500.1h0M968.0 673.6h0M240.2 535.6h0M625.0 419.4h0M707.1 455.7h0M633.9 468.1h0M692.8 430.7h0M620.7 464.4h0M826.4 283.6h0M691.9 454.9h0M691.2 435.2h0M714.8 463.5h0M753.9 557.7h0M966.8 682.8h0M570.6 456.9h0M973.2 734.7h0M979.6 720.2h0M240.8 523.6h0M558.5 493.8h0M1033.1 646.6h0M645.0 429.8h0M978.9 681.3h0M1045.2 676.9h0M936.3 753.6h0M1026.3 668.4h0M755.4 553.9h0M1056.1 641.0h0M973.5 749.7h0M1012.9 651.5h0M934.9 743.7h0M813.6 284.0h0M955.5 735.2h0M1038.7 730.1h0M603.0 472.6h0M728.9 465.6h0M605.8 451.0h0M1028.1 726.0h0M1012.3 689.9h0M180.5 564.0h0M691.6 447.2h0M531.2 482.1h0M686.1 447.0h0M695.0 421.0h0M839.3 220.0h0M553.5 439.6h0M831.5 238.0h0M965.6 674.8h0M574.3 492.8h0M710.0 163.2h0M1038.8 729.4h0M986.2 708.1h0M830.0 286.4h0M545.5 472.7h0M607.3 464.3h0M196.1 544.3h0M948.7 755.2h0M278.2 537.1h0M840.8 227.5h0M264.5 530.7h0M213.4 522.7h0M276.9 536.4h0M523.7 438.2h0M979.9 667.1h0M1003.6 645.2h0M254.9 497.3h0M566.8 493.1h0M1021.0 712.8h0M991.0 656.9h0M803.0 274.4h0M992.0 650.3h0M239.3 547.0h0M972.0 691.3h0M949.3 744.2h0M218.8 519.0h0M533.5 486.8h0M1019.1 669.9h0M973.4 673.5h0M1019.2 728.8h0M993.2 700.1h0M570.6 480.3h0M992.7 754.3h0M624.5 454.4h0M272.0 539.5h0M942.8 654.2h0M182.8 541.8h0M808.6 310.0h0M479.4 466.8h0M1057.7 710.4h0M996.1 741.9h0M187.1 510.3h0M1001.6 754.2h0M239.1 539.1h0M975.4 778.7h0M999.8 732.7h0M1044.5 740.5h0M1014.4 730.3h0M611.8 397.9h0M251.1 523.4h0M990.9 697.6h0M158.7 538.4h0M566.2 489.6h0M985.5 757.1h0M1015.2 699.7h0M542.3 479.0h0M612.0 455.9h0M229.2 537.3h0M1016.4 743.9h0M589.7 470.7h0M644.7 420.4h0M568.0 512.4h0M654.9 460.8h0M1054.5 734.5h0M822.5 776.8h0M254.8 522.1h0M700.3 439.9h0M986.9 740.8h0M1081.0 673.4h0M692.3 422.0h0M693.6 429.6h0M538.5 425.8h0M969.5 778.4h0M230.7 534.2h0M614.9 385.1h0M226.5 517.7h0M1003.2 739.9h0M624.0 461.7h0M183.4 524.1h0M817.1 247.5h0M595.7 451.2h0M532.2 422.5h0M1031.3 755.6h0M162.2 534.0h0M190.3 564.1h0M795.3 230.9h0M172.9 545.7h0M812.0 228.9h0M1010.4 689.0h0M953.9 716.4h0M1027.6 737.9h0M845.4 281.4h0M609.8 442.7h0M987.3 745.6h0M631.9 455.1h0M1046.9 698.9h0M1012.5 708.6h0M1001.0 724.8h0M971.7 753.6h0M674.9 435.8h0M616.8 445.4h0M765.6 565.6h0M803.1 230.2h0M980.2 684.0h0M1032.4 771.8h0M945.8 775.2h0M619.5 401.8h0M987.3 727.5h0M979.8 729.1h0M988.0 780.2h0M963.5 689.5h0M215.1 517.8h0M961.8 775.0h0"/>
<path stroke="#b9a1e1" d="M234.7 523.2h0M784.6 245.2h0M977.6 699.5h0M1002.9 706.7h0M326.6 814.8h0M1060.2 722.9h0M997.6 675.9h0M720.7 475.1h0M621.4 393.3h0M186.9 524.9h0M511.5 499.9h0M1062.3 686.8h0M716.1 452.7h0M563.9 494.2h0M1037.2 665.1h0M1042.8 710.3h0M694.7 431.3h0M510.7 518.9h0M553.4 499.4h0M251.0 529.2h0M635.9 464.0h0M528.9 502.2h0M600.7 472.3h0M1017.8 642.3h0M1028.1 759.0h0M837.6 227.9h0M958.7 740.2h0M970.4 705.4h0M973.5 770.9h0M953.5 742.9h0M1042.9 692.7h0M480.8 525.6h0M177.0 514.8h0M569.0 476.6h0M798.7 216.4h0M977.2 673.7h0M701.0 434.9h0M698.3 452.4h0M1025.8 640.1h0M969.6 685.6h0M415.6 410.2h0M772.4 245.2h0M1045.8 687.0h0M268.9 527.4h0M961.1 767.3h0M574.5 468.3h0M543.5 482.1h0M974.5 743.7h0M595.6 405.0h0M1026.2 660.4h0M813.2 223.2h0M980.4 750.7h0M213.6 518.9h0M661.8 430.3h0M804.5 235.1h0M515.4 395.5h0M1026.0 677.8h0M991.6 742.3h0M697.3 425.9h0M1030.6 713.0h0M608.5 410.1h0M454.7 546.2h0M625.0 467.5h0M968.3 687.0h0M223.6 510.7h0M239.6 523.0h0M1045.8 678.3h0M975.2 666.9h0M723.0 264.6h0M553.4 439.4h0M988.9 752.1h0M1031.1 731.0h0M981.3 694.7h0M1002.1 636.6h0M732.6 463.6h0M1005.0 763.6h0M643.7 447.0h0M984.3 706.4h0M1040.6 734.4h0M631.6 438.9h0M962.9 694.5h0M1036.3 739.6h0M985.1 766.2h0M1015.9 740.6h0M571.8 464.6h0M682.7 459.7h0M961.2 687.2h0M995.5 710.1h0M1005.8 702.3h0M525.3 468.8h0M984.0 651.5h0M761.9 563.3h0M711.5 457.1h0M717.2 196.4h0M711.1 431.1h0M1000.8 647.1h0M1034.2 633.7h0M980.9 724.2h0M519.5 404.2h0M1004.2 713.1h0M647.0 434.5h0M1027.1 713.0h0M536.5 472.4h0M278.6 536.6h0M176.2 535.5h0M653.2 436.6h0M563.1 485.7h0M594.4 412.4h0M615.6 438.7h0M446.0 438.6h0M583.4 444.7h0M916.8 705.2h0M959.4 764.1h0M537.3 505.9h0M970.7 689.5h0M1017.3 705.5h0M931.0 731.7h0M556.6 497.8h0M1030.2 737.7h0M574.1 497.6h0M949.4 721.1h0M1057.5 679.1h0M1022.9 633.6h0M1013.1 707.0h0M168.5 561.7h0M1015.8 638.9h0M990.1 687.2h0M985.9 703.1h0M613.5 406.4h0M1029.7 675.5h0M635.7 402.7h0M212.2 526.2h0M464.6 542.0h0M544.9 477.1h0M1006.8 763.3h0M803.3 241.9h0M1020.4 774.7h0M1015.2 695.4h0M538.2 511.7h0M263.2 524.8h0M985.5 682.4h0M983.7 661.4h0M248.1 538.1h0M573.0 490.9h0M240.0 536.0h0M719.4 452.2h0M732.3 474.7h0M1025.8 670.0h0M261.1 526.9h0M732.8 468.7h0M153.3 551.9h0M979.5 646.0h0M1025.3 717.5h0"/>
<path stroke="#b69ce3" d="M707.2 472.0h0M985.9 713.7h0M215.6 507.6h0M470.5 532.3h0M979.3 698.1h0M530.1 462.6h0M1031.3 680.9h0M607.7 464.6h0M234.6 531.5h0M986.9 741.6h0M480.0 543.9h0M582.9 454.1h0M585.9 437.3h0M478.9 431.3h0M580.4 458.9h0M504.9 508.9h0M667.9 454.6h0M923.8 700.2h0M1006.8 769.2h0M241.8 544.4h0M1009.0 658.8h0M177.8 536.3h0M409.5 405.4h0M605.4 465.8h0M969.2 766.4h0M233.7 530.6h0M997.4 767.0h0M269.4 528.7h0M699.5 450.1h0M629.9 458.5h0M436.2 544.4h0M1059.9 673.9h0M814.5 230.6h0M713.7 450.9h0M499.0 458.4h0M548.5 495.3h0M530.1 508.9h0M976.7 682.2h0M253.8 525.3h0M464.2 415.4h0M975.9 708.9h0M557.3 485.0h0M1044.6 680.3h0M828.2 222.9h0M1048.9 682.3h0M517.6 523.1h0M810.7 237.8h0M829.6 235.6h0M967.6 733.9h0M1037.9 704.0h0M534.5 473.0h0M987.4 718.7h0M616.1 410.6h0M1065.0 675.8h0M544.5 470.3h0M660.3 446.8h0M547.3 471.2h0M988.6 656.9h0M990.3 656.6h0M399.4 401.7h0M965.7 736.1h0M543.7 464.4h0M966.9 773.1h0M642.0 426.9h0M447.1 526.2h0M797.4 244.6h0M495.0 521.3h0M639.9 422.3h0M220.6 527.2h0M626.9 417.1h0M1018.3 701.7h0M930.6 769.3h0M533.2 505.0h0M965.0 735.5h0M627.6 408.8h0M995.1 722.0h0M199.8 531.1h0M622.9 398.2h0M480.3 461.8h0M1057.0 653.5h0M495.4 454.6h0M546.0 474.9h0M226.6 541.8h0M702.9 433.2h0M472.1 530.5h0M1020.5 760.0h0M411.7 410.9h0M1048.7 711.9h0M542.4 490.5h0M617.0 407.8h0M494.2 542.4h0M1009.6 763.1h0M396.5 401.4h0M577.0 466.5h0M571.5 466.4h0M1046.3 660.7h0M1032.4 686.3h0M990.6 645.4h0M522.5 529.3h0M398.8 404.3h0M532.0 510.9h0M468.2 555.9h0M1056.4 720.8h0M1041.9 697.7h0M1036.5 736.8h0M705.1 432.7h0M1051.0 729.0h0M502.2 518.8h0M1009.7 681.5h0M514.0 507.3h0M936.5 773.6h0M249.7 550.7h0M666.3 431.1h0M980.9 731.5h0M618.6 435.6h0M666.4 238.6h0M809.4 315.4h0M967.6 661.5h0M1042.1 739.6h0M1069.4 652.6h0M1038.4 668.3h0M669.7 446.6h0M1012.6 647.8h0M537.4 500.6h0M494.4 522.9h0M1057.6 700.1h0M648.2 422.6h0M183.7 548.6h0M250.8 544.3h0M483.1 565.9h0M1028.8 734.4h0M588.3 227.3h0M163.5 545.9h0M1059.9 697.1h0M260.9 487.2h0M998.2 681.0h0M553.4 439.3h0M805.0 312.6h0M1054.2 700.4h0M746.7 546.1h0M481.5 541.1h0M997.6 638.0h0M425.8 391.9h0M237.1 531.3h0M815.5 244.6h0M800.1 233.4h0M521.6 437.7h0M926.2 701.6h0M1072.6 662.5h0M456.0 394.8h0M972.1 761.3h0M529.8 472.0h0M994.3 775.9h0M942.1 767.9h0M531.3 517.9h0M604.3 468.1h0M1036.7 710.0h0M711.2 455.8h0M405.7 399.6h0M666.3 238.7h0M541.8 512.2h0M995.9 629.8h0"/>
<path stroke="#b396e4" d="M526.2 455.0h0M1059.6 699.8h0M1041.6 686.5h0M607.3 390.4h0M939.7 724.7h0M536.3 488.8h0M981.4 678.0h0M1030.3 733.7h0M698.5 429.9h0M978.6 716.8h0M969.9 731.6h0M534.3 511.0h0M565.1 487.0h0M454.5 402.2h0M1065.2 693.7h0M716.0 458.9h0M974.2 755.7h0M470.9 536.2h0M1024.3 768.4h0M519.8 404.8h0M515.1 520.9h0M1009.7 663.7h0M467.8 523.6h0M463.1 537.9h0M208.7 506.0h0M455.8 538.1h0M497.2 510.0h0M994.8 652.2h0M261.3 525.2h0M433.8 548.5h0M518.7 520.6h0M460.5 412.8h0M958.2 746.1h0M503.4 452.4h0M1009.9 688.7h0M257.4 523.2h0M230.8 547.0h0M457.7 559.1h0M1004.1 699.4h0M537.8 475.9h0M494.4 500.0h0M1015.9 774.2h0M623.1 428.9h0M506.8 477.4h0M275.7 537.4h0M932.8 730.5h0M1015.4 668.3h0M972.4 698.0h0M690.9 459.5h0M496.9 529.4h0M240.3 530.9h0M478.8 435.0h0M643.1 457.2h0M501.2 452.9h0M493.5 465.8h0M493.0 549.9h0M524.9 513.6h0M245.6 547.0h0M929.9 741.2h0M978.0 718.5h0M554.4 503.7h0M407.3 404.8h0M953.2 743.9h0M980.0 753.5h0M444.3 396.8h0M272.2 533.5h0M197.0 525.2h0M697.6 445.7h0M510.8 461.7h0M487.7 562.7h0M438.6 398.8h0M496.1 465.7h0M506.6 529.5h0M517.2 462.2h0M502.1 491.1h0M675.6 437.6h0M548.2 490.8h0M484.9 435.9h0M461.7 416.3h0M536.4 485.5h0M945.4 733.7h0M729.5 446.0h0M493.4 443.3h0M514.0 449.3h0M546.1 481.0h0M396.4 394.7h0M939.1 735.9h0M405.7 391.0h0M997.0 688.0h0M498.6 511.9h0M217.2 552.7h0M968.9 671.6h0M511.9 446.8h0M1002.1 736.5h0M711.6 853.3h0M535.7 479.2h0M1002.8 674.9h0M937.6 732.2h0M515.5 395.8h0M486.5 565.9h0M252.3 517.0h0M995.7 721.8h0M994.9 644.8h0M538.6 476.4h0M707.2 437.0h0M535.8 482.4h0M1039.3 712.0h0M638.9 410.6h0M634.6 418.7h0M236.3 549.6h0M616.4 438.4h0M724.1 453.8h0M482.3 561.1h0M1003.0 662.8h0M1006.1 651.8h0M258.6 548.5h0M450.6 414.8h0M1060.4 677.2h0M486.9 443.6h0M955.6 735.4h0M267.2 535.4h0M567.9 465.0h0M503.7 508.3h0M514.5 409.5h0M523.8 525.5h0M483.5 534.1h0M518.2 534.6h0M916.1 692.6h0M428.9 397.2h0M1043.3 671.1h0M580.2 448.8h0M727.4 460.5h0M733.1 455.9h0M1003.1 652.8h0M560.1 487.8h0M799.9 228.0h0M1040.7 714.0h0M424.3 390.1h0M566.4 500.0h0M1014.9 702.2h0M985.9 718.4h0M248.5 523.1h0"/>
<path stroke="#af91e6" d="M995.8 741.3h0M589.6 460.7h0M605.2 391.6h0M523.1 483.7h0M1019.7 741.2h0M832.4 235.6h0M956.9 727.3h0M963.7 715.4h0M1005.5 666.2h0M559.7 493.9h0M992.3 648.2h0M542.8 471.5h0M795.7 208.1h0M496.2 516.7h0M236.9 507.7h0M487.2 515.2h0M1045.2 650.6h0M504.6 490.7h0M702.6 453.8h0M616.2 435.7h0M454.2 557.8h0M691.9 420.2h0M1065.0 713.7h0M508.1 525.6h0M523.8 504.7h0M976.1 707.7h0M500.6 524.2h0M466.2 523.5h0M949.1 756.5h0M1031.9 742.3h0M569.2 445.3h0M257.9 545.2h0M230.7 516.9h0M506.4 526.1h0M504.1 515.0h0M541.3 495.4h0M499.8 494.1h0M478.8 459.6h0M999.4 730.5h0M494.8 467.4h0M453.1 410.5h0M488.4 434.3h0M984.1 638.8h0M1028.2 762.1h0M439.4 401.8h0M614.8 413.8h0M502.3 521.3h0M734.0 461.8h0M721.3 467.3h0M500.5 460.3h0M770.8 205.0h0M165.7 546.8h0M444.3 553.4h0M1021.7 756.6h0M250.7 527.9h0M618.5 403.3h0M970.6 716.4h0M389.3 418.0h0M522.9 460.4h0M814.8 278.0h0M443.5 554.8h0M988.6 653.7h0M528.0 514.4h0M444.8 400.2h0M486.2 449.7h0M949.1 762.3h0M732.1 825.9h0M521.6 513.8h0M545.5 485.0h0M563.7 500.5h0M806.1 214.6h0M440.6 399.5h0M752.7 551.1h0M516.6 522.2h0M972.4 746.4h0M1034.8 696.0h0M600.9 388.9h0M536.5 462.5h0M618.2 458.0h0M1014.0 664.3h0M585.3 446.1h0M791.6 268.0h0M1010.7 763.8h0M1065.0 638.8h0M496.6 447.3h0M989.1 677.8h0M573.2 779.2h0M170.6 562.3h0M513.9 515.8h0M461.6 549.2h0M1004.6 641.8h0M972.4 690.7h0M655.2 444.8h0M1074.4 647.6h0M531.4 517.4h0M688.8 451.1h0M260.2 542.9h0M264.2 544.3h0M1028.7 706.8h0M506.2 508.0h0M1065.5 692.2h0M209.3 521.7h0M1061.4 705.2h0M437.5 400.7h0M983.2 687.1h0M472.5 460.2h0M1037.7 635.9h0M761.4 202.4h0M211.4 522.2h0M489.4 509.4h0M717.1 461.9h0M533.2 449.4h0M208.6 557.6h0M520.2 523.4h0M1030.1 732.3h0M510.9 518.4h0M499.0 451.2h0M502.7 455.7h0M1037.4 752.1h0M242.2 532.3h0M391.3 410.5h0M963.4 749.6h0M528.2 445.0h0M547.6 487.8h0M702.6 437.5h0M611.0 437.3h0M232.8 514.5h0M831.9 240.2h0M503.2 454.6h0M526.2 424.8h0M288.2 530.0h0M959.9 722.7h0M1043.4 647.9h0M523.8 466.9h0M217.9 542.2h0M207.7 550.1h0M539.2 478.2h0M250.2 541.9h0M998.0 761.3h0M229.0 538.9h0M550.0 237.0h0M977.4 710.2h0M226.8 539.0h0M567.2 475.6h0M475.2 555.2h0M980.9 716.6h0M533.5 519.9h0M519.2 458.5h0M536.7 466.9h0M965.0 692.7h0M997.4 735.1h0M916.9 697.9h0M1060.5 688.0h0M692.4 447.8h0M508.1 529.3h0M483.9 535.8h0M453.3 396.4h0M978.8 738.3h0M956.0 760.1h0M1000.7 631.3h0"/>
<path stroke="#ab8be7" d="M1028.6 688.3h0M1009.2 666.5h0M512.2 456.7h0M542.8 235.8h0M491.1 440.9h0M1048.3 706.9h0M604.9 382.1h0M1027.8 749.8h0M499.4 566.8h0M416.2 409.3h0M461.6 592.0h0M526.3 529.0h0M919.0 556.5h0M508.7 512.2h0M1018.6 716.1h0M449.3 539.5h0M612.0 403.7h0M528.0 518.2h0M265.4 528.4h0M407.2 428.9h0M501.9 523.1h0M527.5 527.2h0M961.3 726.0h0M645.2 676.5h0M592.6 460.4h0M403.2 388.6h0M547.3 474.1h0M995.2 760.6h0M249.8 531.1h0M770.9 559.0h0M625.1 456.0h0M1014.4 637.8h0M1068.3 710.0h0M1060.0 707.3h0M797.2 209.2h0M523.6 458.8h0M811.8 245.4h0M934.5 761.5h0M459.4 593.9h0M259.1 527.7h0M1003.4 721.2h0M628.3 400.6h0M731.5 451.6h0M536.5 472.7h0M550.2 488.7h0M415.7 399.9h0M580.2 441.1h0M1046.3 708.2h0M231.9 508.9h0M506.4 525.8h0M993.1 688.0h0M532.1 467.1h0M943.3 753.0h0M1030.0 643.4h0M981.4 714.2h0M925.9 699.0h0M984.6 716.5h0M519.3 445.5h0M957.2 708.1h0M477.8 457.2h0M521.7 525.8h0M531.3 502.3h0M1045.7 646.7h0M575.7 445.5h0M1007.4 664.7h0M559.0 489.5h0M540.5 434.1h0M506.3 488.4h0M920.3 699.3h0M819.5 228.3h0M973.1 682.0h0M270.2 541.9h0M470.1 570.7h0M550.1 468.2h0M467.4 455.7h0M660.1 658.9h0M241.2 538.9h0M254.2 525.2h0M692.5 433.8h0M472.7 534.2h0M578.4 477.4h0M556.1 482.6h0M587.7 477.8h0M197.6 521.0h0M502.4 476.3h0M538.5 498.5h0M238.1 543.7h0M727.7 471.2h0M492.0 519.2h0M704.4 463.7h0M584.8 470.4h0M983.0 681.1h0M1044.7 707.2h0M1050.5 651.4h0M506.6 463.7h0M235.1 538.9h0M1051.9 713.1h0M475.5 583.7h0M244.6 537.3h0M595.6 474.9h0M514.5 409.8h0M584.1 466.2h0M829.1 228.9h0M592.4 432.9h0M966.2 694.3h0M504.2 512.1h0M708.7 459.3h0M628.9 681.6h0M391.7 421.3h0M706.2 428.6h0M538.3 483.4h0M1043.9 666.7h0M1027.2 757.7h0M468.6 441.1h0M538.2 466.4h0M226.8 529.3h0M402.0 398.7h0M499.1 485.7h0M497.2 493.8h0M533.1 527.2h0M578.8 474.1h0M972.3 698.4h0M750.1 544.5h0M776.0 202.8h0M536.5 503.1h0M233.0 533.4h0M413.4 394.5h0M1000.0 760.1h0M666.9 428.1h0M980.7 670.1h0M535.6 496.6h0M784.4 210.6h0M208.2 520.7h0M1022.9 686.1h0M715.1 475.2h0M1052.0 731.3h0M253.4 545.4h0M491.5 505.3h0M241.0 525.4h0M984.4 666.1h0M580.9 437.7h0M520.3 521.0h0M547.2 497.2h0M552.6 483.0h0M625.0 407.4h0M608.2 393.5h0M1011.8 743.9h0M432.7 401.3h0M990.3 764.8h0M396.6 419.6h0M615.7 405.3h0M1047.4 686.7h0M496.1 461.2h0M540.6 434.1h0M605.4 452.1h0M521.2 508.1h0M518.2 452.0h0M1022.3 660.4h0M505.2 479.3h0M395.8 424.1h0M1032.0 642.9h0M500.3 525.9h0M405.2 397.2h0M595.6 428.6h0M540.0 434.0h0M554.3 486.1h0M739.0 565.9h0M974.9 660.4h0M801.8 215.2h0"/>
<path stroke="#a886e8" d="M615.6 389.7h0M979.0 773.1h0M498.2 525.7h0M487.2 512.5h0M273.6 529.3h0M590.6 454.0h0M482.5 563.8h0M1064.3 667.4h0M237.8 526.7h0M494.2 558.0h0M976.3 699.4h0M705.5 465.3h0M214.7 523.1h0M991.3 686.5h0M621.1 395.7h0M563.2 468.9h0M623.0 403.6h0M1043.8 674.6h0M624.9 415.3h0M400.7 416.1h0M563.0 473.7h0M565.5 498.6h0M721.4 464.5h0M939.2 734.5h0M710.7 434.1h0M515.5 522.8h0M502.8 518.4h0M987.4 659.5h0M1033.6 641.5h0M1017.1 712.2h0M500.5 528.9h0M752.2 537.9h0M623.5 417.7h0M635.2 421.7h0M1066.9 713.2h0M553.7 494.2h0M538.5 464.3h0M472.2 423.8h0M551.8 474.5h0M523.7 528.6h0M238.0 532.7h0M797.0 215.5h0M914.4 702.7h0M494.3 520.3h0M916.8 712.1h0M493.7 453.6h0M492.3 568.7h0M401.3 389.6h0M243.5 543.6h0M1031.9 744.5h0M456.9 445.1h0M498.1 557.5h0M706.5 439.6h0M1048.0 636.6h0M554.6 477.9h0M410.3 402.0h0M982.6 691.1h0M989.1 633.0h0M974.6 724.9h0M930.0 707.4h0M271.2 538.1h0M455.7 446.3h0M527.5 519.5h0M654.0 440.0h0M1015.6 663.2h0M1004.7 669.8h0M541.4 469.1h0M472.2 588.6h0M708.5 448.8h0M634.6 430.0h0M493.5 501.5h0M219.9 514.9h0M578.1 470.6h0M996.2 658.6h0M695.3 461.1h0M456.7 449.4h0M525.4 523.5h0M469.4 579.5h0M998.6 638.2h0M528.6 453.2h0M456.3 553.3h0M1038.2 702.2h0M1004.9 724.5h0M433.5 560.1h0M985.0 741.2h0M1014.4 638.8h0M1010.4 755.0h0M515.3 442.8h0M442.7 401.5h0M985.9 711.1h0M971.5 760.9h0M971.6 768.0h0M493.4 525.1h0M948.5 778.2h0M533.6 528.6h0M504.0 482.1h0M454.0 570.0h0M997.7 691.0h0M736.4 562.8h0M681.7 435.9h0M655.2 438.1h0M235.1 504.9h0M978.9 726.6h0M454.4 526.5h0M405.4 408.5h0M523.0 520.9h0M567.2 495.8h0M544.4 490.3h0M501.4 345.9h0M234.7 541.2h0M504.1 520.4h0M979.7 679.4h0M1033.9 716.4h0M450.3 563.7h0M514.2 452.0h0M610.2 384.5h0M470.8 467.9h0M539.9 473.4h0M451.4 537.7h0M487.2 432.5h0M1019.0 662.0h0M1003.1 747.5h0M530.7 507.5h0M451.0 557.8h0M501.1 553.7h0M1057.6 676.5h0M525.4 529.8h0M505.6 542.9h0M994.2 753.8h0M656.0 454.6h0M449.9 586.5h0M603.2 385.8h0M978.8 703.3h0M493.9 505.4h0M936.1 759.6h0M613.0 467.8h0M610.6 389.0h0M1014.1 728.3h0M235.7 519.0h0M1022.6 673.0h0M479.6 588.0h0M440.2 567.6h0M513.1 505.1h0M1032.9 674.5h0M1016.6 694.7h0M1003.1 645.7h0M486.1 584.1h0M587.1 447.9h0M497.1 579.4h0M997.4 735.5h0M1034.6 714.3h0M979.3 757.3h0M413.6 393.3h0M927.3 717.2h0M832.0 224.5h0M495.2 494.5h0M1042.7 677.1h0M444.2 394.8h0"/>
<path stroke="#a480ea" d="M970.4 694.1h0M486.8 506.9h0M1005.5 745.5h0M952.0 758.8h0M584.9 459.2h0M1029.8 682.8h0M511.5 573.4h0M831.6 230.1h0M606.9 552.1h0M440.8 588.7h0M991.0 729.3h0M954.6 734.1h0M417.5 420.2h0M814.2 244.3h0M445.7 548.1h0M718.2 469.3h0M659.9 448.5h0M532.1 514.3h0M476.7 457.2h0M587.4 430.4h0M393.9 409.8h0M523.0 417.6h0M541.3 469.6h0M447.5 413.1h0M506.8 561.3h0M476.3 535.7h0M500.6 554.4h0M590.3 433.8h0M398.4 423.3h0M980.8 671.7h0M500.3 445.0h0M605.1 550.6h0M516.9 517.4h0M469.0 541.3h0M940.4 724.8h0M608.2 552.6h0M991.7 762.0h0M962.4 682.0h0M703.5 457.0h0M516.9 555.5h0M464.3 582.8h0M462.4 569.4h0M474.9 423.4h0M587.6 464.0h0M555.0 489.3h0M1016.4 708.2h0M466.5 447.3h0M705.7 444.7h0M989.7 776.9h0M603.7 549.8h0M992.2 727.0h0M513.1 541.3h0M1040.5 650.8h0M525.0 521.6h0M570.5 469.6h0M563.0 516.4h0M459.5 390.7h0M577.4 455.3h0M523.3 547.2h0M509.2 465.3h0M409.0 409.1h0M620.1 468.5h0M415.9 391.7h0M1018.9 639.1h0M493.9 540.7h0M961.9 747.3h0M484.5 583.3h0M528.9 520.8h0M697.8 454.2h0M571.0 488.2h0M823.3 780.0h0M975.2 743.6h0M403.6 401.2h0M473.1 582.3h0M1016.0 701.7h0M928.1 710.4h0M625.8 427.8h0M476.5 554.6h0M506.7 551.8h0M529.4 469.6h0M1033.0 704.0h0M578.1 461.7h0M458.7 535.6h0M479.3 528.6h0M1003.1 774.1h0M585.2 477.2h0M968.9 759.0h0M748.6 536.9h0M604.2 393.6h0M1052.1 646.7h0M604.1 550.3h0M924.5 697.3h0M256.9 544.3h0M991.6 668.0h0M519.0 535.7h0M1021.1 659.0h0M836.3 235.4h0M689.3 441.7h0M486.7 527.0h0M609.3 553.0h0M521.4 450.1h0M517.3 524.1h0M435.5 546.4h0M1032.5 688.1h0M537.1 490.6h0M570.2 497.8h0M623.1 441.7h0M971.9 681.3h0M1024.6 699.5h0M1059.0 692.2h0M839.0 284.2h0M521.4 454.8h0M1025.3 742.4h0M515.8 576.5h0M716.6 444.4h0M527.8 555.2h0M1019.3 696.7h0M497.1 519.1h0M519.1 533.4h0M518.1 527.7h0M513.3 496.0h0M436.1 564.8h0M437.0 423.6h0M588.0 462.1h0M557.6 474.2h0M485.6 561.8h0M533.5 509.3h0M951.8 766.0h0M439.2 542.8h0M525.4 493.9h0M511.4 534.4h0M696.3 434.9h0M434.0 403.2h0M517.4 573.9h0M1017.1 734.9h0M473.9 429.0h0M495.2 544.2h0M1050.8 686.5h0M511.0 576.3h0M580.7 479.6h0M980.2 702.6h0M434.9 574.5h0"/>
<path stroke="#a07beb" d="M530.2 532.6h0M490.5 515.3h0M480.3 458.6h0M733.2 473.0h0M576.5 463.3h0M397.0 399.8h0M437.2 404.5h0M1064.4 663.9h0M251.9 530.0h0M991.8 671.8h0M572.8 464.2h0M393.9 420.5h0M549.7 480.8h0M537.0 476.0h0M558.6 465.5h0M967.5 698.7h0M501.6 487.5h0M442.6 587.3h0M989.1 744.2h0M593.8 444.5h0M416.3 390.0h0M940.9 754.0h0M599.6 448.6h0M518.1 546.4h0M987.1 691.8h0M572.7 478.1h0M764.9 552.1h0M1028.7 732.4h0M981.4 702.6h0M1034.7 628.1h0M533.0 491.6h0M524.5 512.6h0M978.7 720.3h0M751.8 563.9h0M439.2 405.9h0M943.6 744.6h0M269.5 543.2h0M1066.9 720.6h0M956.1 766.1h0M1041.8 756.4h0M515.0 517.2h0M999.2 651.8h0M409.6 390.7h0M1045.3 657.9h0M274.6 536.9h0M469.4 446.5h0M971.9 690.0h0M551.9 468.8h0M516.8 571.6h0M1008.1 706.5h0M1011.2 734.7h0M600.6 546.8h0M412.3 407.4h0M1043.0 717.6h0M600.9 547.7h0M617.3 462.3h0M407.6 388.9h0M982.1 678.3h0M431.3 418.0h0M481.2 441.2h0M1033.3 688.5h0M1012.0 669.8h0M233.9 552.4h0M660.4 460.9h0M1035.6 761.3h0M535.0 460.1h0M1023.2 743.7h0M499.0 527.2h0M999.6 723.5h0M988.4 757.4h0M601.1 386.3h0M524.7 527.2h0M507.7 519.9h0M519.7 505.3h0M692.8 433.1h0M530.7 533.9h0M1016.6 665.4h0M466.6 416.1h0M500.1 520.9h0M507.9 490.6h0M468.9 557.9h0M974.7 732.7h0M1038.2 727.5h0M495.9 582.1h0M754.3 569.4h0M512.6 522.4h0M726.6 460.5h0M628.6 433.2h0M819.3 782.1h0M574.0 464.7h0M1010.7 708.5h0M981.2 766.2h0M1010.1 662.9h0M513.5 459.0h0M448.9 415.2h0M732.4 466.1h0M465.7 586.5h0M484.6 571.6h0M997.8 735.8h0M1051.0 694.9h0M965.7 765.5h0M970.6 694.9h0M518.9 517.4h0M1042.4 683.8h0M440.6 551.9h0M238.0 537.2h0M595.3 442.2h0M569.2 473.9h0M541.7 468.6h0M1027.0 769.6h0M425.3 425.2h0M1027.7 753.5h0M480.0 433.7h0M512.8 580.1h0M404.9 404.2h0M501.9 537.2h0M587.7 248.3h0M1000.6 627.5h0M502.9 492.6h0M562.2 482.1h0M470.2 524.6h0M517.3 542.2h0M598.1 545.3h0M499.3 462.7h0M970.6 749.9h0M493.1 524.6h0M429.1 395.5h0M234.6 539.6h0M1008.1 694.0h0M249.4 524.6h0M517.0 514.2h0M493.5 519.0h0M410.7 398.4h0M540.5 492.3h0M523.1 508.0h0M428.8 418.0h0M522.3 452.4h0M687.6 446.0h0M528.3 464.8h0M255.0 530.3h0M482.6 462.2h0M958.7 689.1h0"/>
<path stroke="#9b75ec" d="M495.8 496.9h0M998.0 683.9h0M475.7 429.6h0M522.6 442.3h0M984.2 716.3h0M690.7 433.6h0M835.7 225.2h0M593.5 541.8h0M748.2 540.8h0M537.5 451.0h0M507.2 523.1h0M466.6 442.8h0M694.1 431.9h0M965.6 733.4h0M713.6 476.0h0M497.6 510.0h0M412.2 406.2h0M964.0 665.7h0M498.9 476.8h0M1009.0 690.6h0M487.2 578.3h0M233.8 536.1h0M463.3 410.9h0M475.7 520.2h0M981.2 659.4h0M558.7 483.5h0M993.4 713.0h0M527.2 474.9h0M418.3 390.7h0M431.3 557.5h0M403.1 428.8h0M979.5 698.5h0M502.3 557.4h0M534.1 477.1h0M549.4 468.9h0M562.9 465.2h0M505.2 449.2h0M516.3 522.1h0M993.1 680.8h0M503.9 520.6h0M843.3 218.6h0M423.9 392.2h0M525.4 450.9h0M1028.4 746.9h0M1051.5 731.6h0M518.9 509.0h0M497.9 554.0h0M434.6 396.9h0M650.8 448.9h0M457.3 409.0h0M407.5 386.9h0M1000.0 654.2h0M602.5 548.6h0M993.9 659.1h0M516.3 460.3h0M1061.8 698.1h0M478.6 458.8h0M521.0 465.7h0M480.5 460.0h0M462.3 583.0h0M542.7 475.3h0M1016.4 623.7h0M1016.8 648.2h0M695.0 425.6h0M512.3 523.4h0M1042.5 715.7h0M1039.9 672.7h0M526.4 504.1h0M990.3 723.2h0M989.9 756.3h0M501.4 495.6h0M985.4 759.1h0M990.2 749.4h0M607.9 387.7h0M549.6 483.8h0M512.8 454.4h0M503.9 501.2h0M527.3 507.4h0M480.8 589.6h0M505.6 494.4h0M706.0 430.3h0M523.0 417.1h0M505.2 532.8h0M596.7 543.9h0M755.3 560.2h0M407.7 394.3h0M493.4 515.3h0M527.0 448.1h0M561.1 474.6h0M660.5 429.2h0M525.7 538.0h0M1002.9 747.8h0M507.4 460.1h0M1045.4 686.8h0M910.2 433.4h0M1055.3 680.6h0M772.1 562.2h0M1025.5 702.5h0M957.9 770.9h0M1011.1 646.9h0M474.4 566.8h0M511.7 389.2h0M694.5 449.0h0M630.6 433.9h0M976.7 715.2h0M1029.7 693.7h0M1006.8 712.3h0M509.6 455.6h0M489.8 590.7h0M697.0 445.1h0M1024.3 643.7h0M1042.9 728.3h0M404.4 406.3h0M493.3 450.0h0M1006.1 655.9h0M547.4 476.9h0M939.8 725.4h0M441.3 560.9h0M962.0 776.3h0M543.6 475.0h0M503.7 524.4h0M493.9 574.1h0M991.8 759.9h0M475.8 532.2h0M577.5 460.2h0M531.4 470.2h0M561.8 471.0h0"/>
<path stroke="#9770ed" d="M1031.0 645.3h0M508.3 500.0h0M540.6 466.7h0M702.4 462.2h0M1045.6 725.7h0M456.3 400.5h0M729.9 472.7h0M1053.3 693.6h0M440.8 396.2h0M534.1 508.9h0M492.4 446.7h0M597.1 544.7h0M500.5 507.4h0M502.5 588.2h0M711.8 428.6h0M486.8 457.2h0M972.4 771.9h0M1023.8 655.3h0M562.4 464.9h0M486.5 437.3h0M1017.2 644.2h0M447.4 396.1h0M538.2 494.9h0M540.6 476.0h0M511.5 459.5h0M493.4 458.8h0M498.1 529.2h0M399.5 417.7h0M449.3 585.9h0M507.7 452.9h0M1036.2 698.2h0M1037.2 680.8h0M463.0 527.6h0M499.2 513.5h0M955.3 751.9h0M503.3 576.7h0M451.8 583.7h0M511.9 389.4h0M1005.2 679.4h0M1046.5 648.3h0M422.2 389.8h0M1050.1 663.5h0M590.8 539.6h0M1028.4 629.5h0M503.2 507.4h0M1064.9 709.9h0M495.0 514.5h0M1011.6 740.1h0M1002.5 685.8h0M415.6 438.4h0M505.8 503.5h0M719.6 463.0h0M1004.9 640.3h0M452.2 583.8h0M467.4 450.8h0M533.3 465.4h0M598.6 545.5h0M508.7 450.3h0M1002.9 690.7h0M567.4 481.7h0M442.4 539.3h0M514.9 470.8h0M986.5 735.8h0M834.2 221.4h0M1024.7 708.0h0M703.9 450.0h0M519.5 439.8h0M1035.0 687.2h0M1005.2 697.4h0M1011.7 750.0h0M521.3 531.0h0M408.2 396.0h0M401.4 418.1h0M492.1 464.2h0M1053.2 636.6h0M457.8 410.6h0M692.9 460.7h0M969.9 740.2h0M511.7 508.6h0M1013.9 707.9h0M946.2 772.8h0M499.9 474.4h0M463.9 569.8h0M397.7 425.1h0M701.5 444.1h0M987.0 756.1h0M1027.1 644.1h0M525.9 463.9h0M1036.6 752.6h0M490.5 521.2h0M1024.1 637.3h0M491.2 559.7h0M589.4 538.0h0M989.1 651.3h0M517.8 529.9h0M480.7 559.0h0M480.7 559.6h0M448.3 548.5h0M833.0 228.3h0M413.7 398.6h0M565.3 471.3h0M957.2 763.8h0M491.7 455.3h0M496.1 519.8h0M478.5 563.6h0M181.0 542.8h0M469.6 421.6h0M839.6 215.7h0"/>
<path stroke="#926aef" d="M955.5 776.5h0M496.8 514.1h0M1045.4 664.0h0M1062.4 657.6h0M464.3 587.3h0M1023.7 656.0h0M437.0 553.6h0M1000.7 651.3h0M1025.6 694.7h0M526.6 542.1h0M472.2 578.4h0M413.9 407.8h0M527.1 499.6h0M526.1 533.0h0M549.3 475.6h0M943.0 744.7h0M950.0 719.2h0M507.9 464.3h0M417.8 407.5h0M523.1 497.0h0M477.2 533.0h0M490.9 466.6h0M1049.3 722.2h0M739.4 466.6h0M979.9 740.5h0M513.2 464.0h0M491.8 544.0h0M518.8 528.5h0M477.9 453.1h0M718.7 473.8h0M490.8 575.0h0M494.8 576.0h0M1011.4 665.1h0M496.4 535.3h0M1035.9 682.2h0M502.1 500.0h0M693.4 436.5h0M458.8 567.6h0M509.4 533.4h0M442.3 534.0h0M508.0 531.7h0M456.2 591.0h0M801.0 220.8h0M961.9 763.4h0M760.2 543.3h0M452.7 401.3h0M507.6 542.3h0M719.6 446.6h0M487.6 458.6h0M585.0 533.7h0M530.0 444.2h0M488.2 588.8h0M701.2 425.3h0M431.1 400.4h0M979.8 759.0h0M591.4 540.5h0M946.4 749.5h0M470.3 454.3h0M475.2 522.8h0M953.6 683.3h0M945.1 761.2h0M537.4 492.5h0M1064.0 653.1h0M512.7 519.0h0M455.9 447.7h0M1037.3 708.4h0M974.0 722.6h0M993.2 745.6h0M511.0 449.7h0M243.2 542.8h0M495.8 491.0h0M999.5 657.9h0M431.1 394.6h0M514.6 455.8h0M497.3 495.6h0M1062.0 658.5h0M480.2 444.5h0M413.5 391.3h0M493.9 442.7h0M526.6 504.0h0M756.5 582.3h0M696.4 441.9h0M550.7 473.3h0M500.9 541.6h0M512.6 480.2h0M949.8 769.1h0M462.5 540.1h0M522.1 556.3h0M970.4 729.0h0M445.8 540.8h0M1036.9 656.8h0M531.4 522.1h0M445.4 570.7h0M464.2 451.6h0M991.3 638.5h0M471.9 524.3h0M464.5 549.0h0M1031.5 725.3h0M1035.4 674.3h0M1056.2 637.9h0M544.4 469.3h0M433.5 555.7h0M516.7 530.6h0M489.0 501.6h0M1053.0 674.1h0M1046.0 668.1h0M530.0 533.0h0M1038.6 659.0h0M1031.9 746.5h0M1047.1 697.6h0M528.3 545.0h0M528.3 517.3h0M511.1 529.2h0M466.4 533.3h0M418.5 392.5h0M994.6 768.5h0M501.8 515.3h0M522.3 454.7h0M959.3 727.0h0"/>
<path stroke="#8e64f0" d="M1034.2 703.4h0M459.3 389.7h0M406.3 432.5h0M452.8 399.5h0M241.0 527.8h0M1043.0 707.2h0M494.3 449.8h0M518.4 529.4h0M491.1 539.4h0M469.8 575.3h0M1023.2 683.0h0M521.5 456.8h0M1050.4 679.1h0M451.0 396.1h0M415.7 405.6h0M715.5 473.3h0M1031.9 762.8h0M482.2 454.8h0M523.6 544.4h0M485.8 464.2h0M459.8 394.0h0M509.4 566.1h0M593.1 541.5h0M495.3 525.2h0M1053.6 669.2h0M494.6 568.1h0M518.5 525.9h0M982.0 708.3h0M995.3 691.0h0M396.5 403.4h0M451.8 592.6h0M522.7 449.5h0M529.3 541.3h0M530.3 452.2h0M1038.0 646.9h0M448.6 446.8h0M387.0 410.4h0M483.2 448.5h0M701.5 438.6h0M530.9 515.6h0M1046.3 643.7h0M695.4 426.4h0M1013.4 659.9h0M722.7 477.5h0M1064.4 704.9h0M486.0 443.8h0M1057.3 678.6h0M1050.1 669.0h0M589.6 539.3h0M447.5 583.2h0M499.3 561.7h0M460.4 549.7h0M487.7 593.3h0M453.5 401.5h0M1065.1 651.1h0M517.9 438.0h0M982.1 741.4h0M496.6 534.0h0M477.4 594.9h0M1044.5 742.9h0M1040.4 659.4h0M506.6 473.6h0M407.0 425.8h0M495.5 520.8h0M1013.2 666.1h0M497.1 527.6h0M735.7 468.4h0M1023.7 648.2h0M978.4 756.2h0M477.9 594.2h0M1043.7 724.1h0M526.3 550.3h0M587.0 536.4h0M1041.8 649.5h0M718.2 440.0h0M750.5 539.4h0M396.6 417.4h0M595.5 542.9h0M511.1 522.0h0M517.1 462.0h0M481.1 452.7h0M957.1 748.6h0"/>
<path stroke="#895ff1" d="M512.4 571.1h0M994.2 723.7h0M1003.5 733.5h0M1063.0 653.1h0M1044.9 684.4h0M428.0 393.2h0M505.5 460.5h0M456.5 391.8h0M960.0 697.4h0M405.3 429.4h0M1029.5 686.0h0M409.1 435.9h0M985.9 754.6h0M408.1 401.9h0M445.7 586.2h0M1032.3 625.9h0M581.4 531.5h0M417.6 434.0h0M504.0 452.3h0M578.3 529.6h0M583.8 533.0h0M704.4 439.4h0M1028.1 669.7h0M505.9 571.8h0M1014.3 706.1h0M525.5 535.6h0M443.1 399.0h0M518.1 446.6h0M464.4 449.2h0M577.8 528.7h0M582.3 531.9h0M1010.9 657.2h0M1000.3 744.7h0M1021.3 706.9h0M521.2 445.7h0M984.0 702.7h0M451.5 590.7h0M516.3 440.4h0M499.6 502.4h0M400.9 405.5h0M932.1 738.5h0M588.1 537.4h0M525.7 539.6h0M448.4 399.9h0M1009.8 683.8h0M499.2 578.9h0M1022.7 758.7h0M473.7 571.0h0M412.5 436.4h0M694.3 448.9h0M419.5 440.3h0M1030.4 643.0h0M457.5 396.6h0M974.2 764.8h0M455.7 579.7h0M480.2 584.4h0M993.6 745.6h0M525.8 563.8h0M993.4 689.1h0M1005.5 656.3h0M459.6 571.3h0M452.5 575.4h0M408.4 431.5h0M961.4 720.8h0M1061.7 685.0h0M1024.7 709.6h0M402.1 396.7h0M1060.1 721.0h0M705.4 446.4h0M490.3 524.9h0M998.5 707.6h0M1027.2 703.5h0M735.7 462.0h0M586.8 535.0h0M1004.4 752.2h0M263.5 541.5h0M520.9 521.9h0M978.8 695.7h0M960.7 721.5h0M995.3 733.7h0M453.7 392.5h0M1049.5 684.3h0M398.6 391.4h0M520.5 448.6h0"/>
<path stroke="#8359f2" d="M493.9 474.3h0M995.2 634.4h0M986.8 741.7h0M950.9 750.3h0M495.9 488.4h0M406.5 393.3h0M517.2 565.7h0M497.6 507.1h0M462.0 583.8h0M956.7 739.6h0M436.1 399.7h0M1023.1 760.2h0M1025.5 695.9h0M761.3 557.4h0M982.4 711.6h0M517.3 560.6h0M997.8 664.2h0M530.7 529.3h0M481.2 591.3h0M936.4 741.8h0M1050.9 675.7h0M983.0 766.5h0M519.2 462.7h0M490.4 582.4h0M1000.1 737.4h0M486.1 464.3h0M450.1 402.3h0M1006.2 732.1h0M486.7 521.8h0M1055.1 674.4h0M989.2 738.2h0M1002.8 720.0h0M478.6 442.0h0M400.0 425.8h0M504.6 572.9h0M1017.6 733.4h0M508.5 511.3h0M955.4 738.6h0M991.2 730.5h0M514.6 539.3h0M1059.7 653.2h0M1040.8 686.5h0M496.4 522.9h0M475.1 461.6h0M500.1 448.7h0M1042.9 728.5h0M435.5 401.5h0M1043.8 694.9h0M510.5 455.0h0M395.2 414.5h0M499.1 584.2h0M942.9 722.1h0M500.4 445.4h0M1052.8 642.7h0M527.3 556.7h0M522.3 567.4h0M1029.2 663.2h0M1021.5 734.9h0M581.6 531.8h0M513.5 462.2h0M423.5 443.1h0M534.2 480.8h0M959.1 741.9h0M1036.2 690.0h0M448.2 444.2h0M453.2 581.9h0M976.4 742.5h0M942.9 721.4h0M461.2 576.5h0M405.2 426.4h0M1026.4 760.3h0M459.9 568.8h0M1010.9 672.8h0M411.4 387.2h0M491.0 528.3h0M489.3 465.7h0M1001.5 673.5h0M1000.8 652.2h0M520.1 442.4h0M406.6 406.8h0"/>
<path stroke="#7e53f4" d="M486.7 459.1h0M523.8 451.8h0M526.4 548.9h0M524.9 441.3h0M464.0 585.5h0M521.1 536.8h0M783.0 215.4h0M1061.6 675.8h0M571.7 520.6h0M975.5 763.0h0M494.7 510.9h0M988.7 739.1h0M576.8 527.3h0M1002.3 777.0h0M992.9 682.3h0M1059.1 662.8h0M579.9 530.6h0M505.1 444.4h0M388.8 415.0h0M1000.3 707.3h0M524.9 523.9h0M485.1 448.5h0M574.0 525.5h0M987.4 754.5h0M507.2 586.2h0M1034.7 744.8h0M1056.7 711.9h0M1014.3 772.1h0M524.4 457.9h0M460.3 448.8h0M464.2 594.2h0M517.9 538.0h0M1031.8 700.8h0M971.8 763.2h0M501.8 568.7h0M572.2 521.8h0M479.9 577.8h0M709.6 453.4h0M460.3 444.9h0M503.0 459.1h0M496.8 452.7h0M955.9 753.2h0M505.3 552.3h0M1005.4 701.4h0M442.5 567.2h0M508.0 563.4h0M990.7 689.6h0M491.1 561.2h0M502.1 448.0h0M492.5 529.1h0M981.8 681.2h0"/>
<path stroke="#784df5" d="M426.5 403.3h0M574.1 524.3h0M733.0 455.4h0M463.0 445.5h0M836.0 220.0h0M575.4 526.5h0M493.7 558.6h0M1028.2 728.9h0M501.7 582.4h0M515.5 562.5h0M970.2 676.8h0M476.6 587.7h0M996.7 682.0h0M518.9 449.5h0M573.6 524.0h0M972.4 758.8h0M530.9 451.6h0M423.4 437.6h0M502.8 529.2h0M457.7 450.1h0M983.9 733.7h0M474.9 450.8h0M522.5 543.2h0M980.1 746.3h0M490.7 452.1h0M519.2 568.2h0M400.3 421.4h0M1072.5 679.2h0M471.6 456.9h0M499.9 568.2h0M514.6 533.5h0M570.0 519.6h0M442.6 579.0h0M477.7 591.6h0M1032.2 725.7h0M1033.8 730.9h0M432.2 403.8h0M469.5 591.4h0M1005.8 662.2h0"/>
<path stroke="#7247f6" d="M518.1 445.2h0M491.7 445.1h0M419.5 442.6h0M954.2 770.0h0M501.2 532.6h0M439.7 585.5h0M481.8 446.6h0M472.2 445.0h0M389.0 410.8h0M415.3 432.3h0M503.2 535.3h0M529.3 548.4h0M519.0 537.5h0M511.7 556.1h0M467.3 577.6h0M519.2 531.0h0M501.2 589.3h0M501.2 569.7h0M487.9 450.6h0M573.1 522.7h0"/>
<path stroke="#6b41f7" d="M507.9 577.3h0M1031.7 685.3h0M515.8 557.1h0M523.1 549.8h0M509.2 576.4h0M437.0 579.2h0M466.2 579.1h0M419.8 434.9h0M511.5 550.4h0M519.6 531.5h0M494.0 474.2h0M414.5 440.1h0M517.9 544.6h0M409.2 417.2h0M511.4 534.3h0M511.6 548.4h0M473.6 531.4h0M998.3 715.3h0"/>
<path stroke="#643bf8" d="M440.0 581.4h0M499.3 547.0h0M501.1 557.2h0M709.6 471.4h0M519.8 547.0h0M502.4 549.4h0M465.1 580.5h0M493.0 534.0h0M415.1 436.8h0M1017.5 655.8h0M420.9 439.0h0M424.6 441.1h0M532.6 530.3h0M1036.7 742.5h0M507.5 546.7h0"/>
<path stroke="#5c35f9" d="M499.9 536.2h0M530.7 555.0h0M474.0 552.4h0M473.3 573.9h0M456.5 585.1h0M495.7 585.0h0M412.0 433.9h0M517.9 567.4h0M526.9 542.6h0M499.8 582.5h0M515.5 575.0h0M487.9 445.4h0M496.4 531.8h0M422.4 429.7h0M472.0 564.4h0M518.4 541.4h0M423.3 439.8h0M522.7 538.3h0M480.4 569.1h0M528.7 558.5h0"/>
<path stroke="#532efa" d="M483.2 579.2h0M519.1 548.9h0M501.1 549.2h0M504.4 579.4h0M473.3 446.7h0M461.5 593.4h0M522.6 556.0h0M438.7 574.4h0M526.1 548.4h0M519.8 558.4h0M526.0 531.2h0M470.6 569.2h0M527.0 533.3h0M475.1 455.3h0M509.1 572.2h0"/>
<path stroke="#4926fb" d="M481.9 594.3h0M480.4 572.5h0M444.6 572.9h0M506.0 551.6h0M525.1 556.4h0M482.3 587.4h0M467.1 590.6h0M516.5 550.5h0M418.2 439.3h0M523.1 558.6h0M476.4 572.2h0M507.7 584.5h0M483.6 593.4h0M516.8 536.6h0M520.7 541.8h0"/>
<path stroke="#3d1efd" d="M490.0 570.1h0M483.6 571.4h0M447.5 591.6h0M444.4 577.0h0"/>
<path stroke="#2d14fe" d="M481.0 575.7h0M463.2 582.0h0M466.5 574.8h0M477.4 580.3h0"/>
<path stroke="#1205ff" d="M472.4 589.0h0M472.8 587.1h0M456.0 592.0h0M561.0 513.6h0"/>
</g>
<g fill="#000">
<rect x="93.8" y="50.3" width="3.2" height="1070.7"/>
<rect x="93.8" y="1117.9" width="1045" height="3.1"/>
<rect x="141.0" y="1120" width="3" height="5"/><rect x="310.1" y="1120" width="3" height="5"/><rect x="479.2" y="1120" width="3" height="5"/><rect x="648.3" y="1120" width="3" height="5"/><rect x="817.4" y="1120" width="3" height="5"/><rect x="986.5" y="1120" width="3" height="5"/><rect x="90.5" y="275.7" width="5" height="3"/><rect x="90.5" y="569.7" width="5" height="3"/><rect x="90.5" y="863.7" width="5" height="3"/>
</g>
<g class="t"><g font-size="30" fill="#000"><text x="142.8" y="1147.7" text-anchor="middle">-15</text><text x="311.9" y="1147.7" text-anchor="middle">-10</text><text x="481.0" y="1147.7" text-anchor="middle">-5</text><text x="650.1" y="1147.7" text-anchor="middle">0</text><text x="819.2" y="1147.7" text-anchor="middle">5</text><text x="988.3" y="1147.7" text-anchor="middle">10</text><text x="88.5" y="287.8" text-anchor="end">10</text><text x="88.5" y="581.8" text-anchor="end">0</text><text x="88.5" y="875.8" text-anchor="end">-10</text></g>
<text x="616" y="36.6" text-anchor="middle" font-size="33.8" font-weight="bold">Cd83</text>
<text x="538" y="1180.8" font-size="30.4">umapNC_1</text>
<text transform="translate(34.2,585.9) rotate(-90)" text-anchor="middle" font-size="30.4">umapNC_2</text>
<rect x="1151" y="547.4" width="16" height="76.6" fill="url(#lg)"/>
<rect x="1151" y="554.9" width="3.2" height="0.8" fill="#fff"/><rect x="1163.8" y="554.9" width="3.2" height="0.8" fill="#fff"/><rect x="1151" y="577.9" width="3.2" height="0.8" fill="#fff"/><rect x="1163.8" y="577.9" width="3.2" height="0.8" fill="#fff"/><rect x="1151" y="600.8" width="3.2" height="0.8" fill="#fff"/><rect x="1163.8" y="600.8" width="3.2" height="0.8" fill="#fff"/>
<g font-size="25" fill="#000"><text x="1174" y="564.7">3</text><text x="1174" y="587.7">2</text><text x="1174" y="610.6">1</text><text x="1174" y="633.5">0</text></g></g>
</svg>
</body></html>
